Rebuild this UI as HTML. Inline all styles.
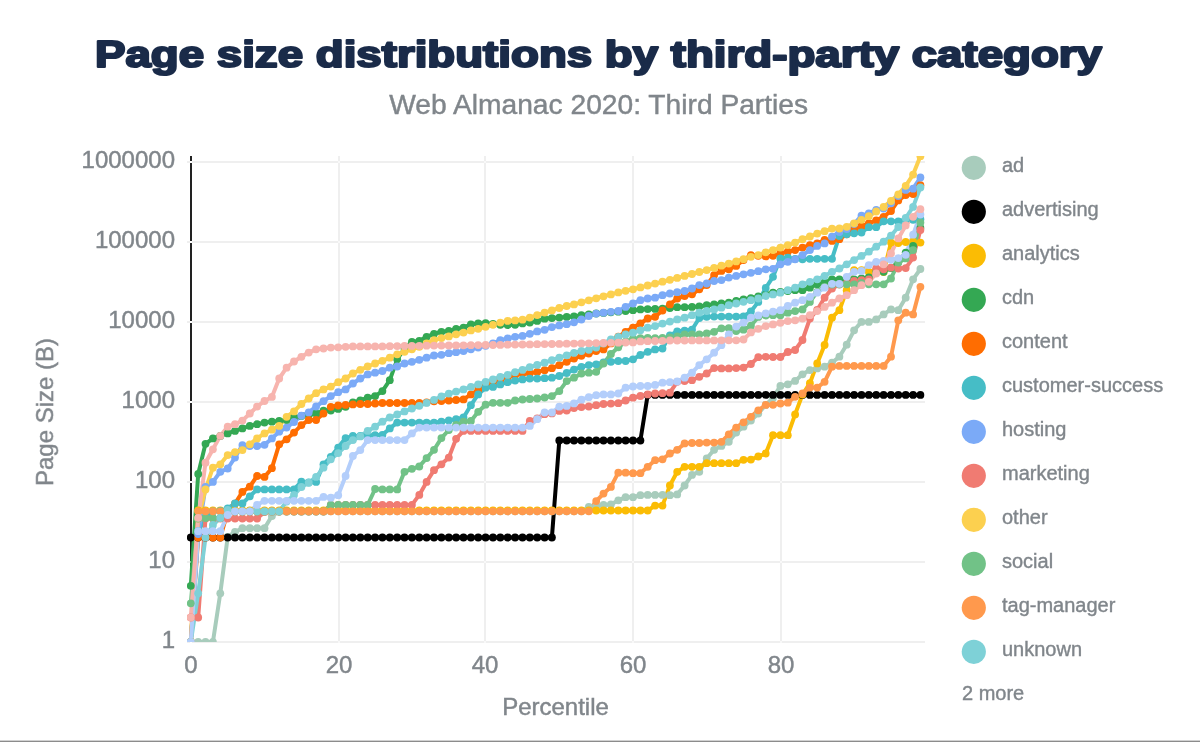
<!DOCTYPE html>
<html><head><meta charset="utf-8"><title>Page size distributions by third-party category</title>
<style>html,body{margin:0;padding:0;background:#fff;}body{width:1200px;height:742px;overflow:hidden;font-family:"Liberation Sans",sans-serif;}svg{display:block;} text{will-change:transform;}</style></head>
<body>
<svg width="1200" height="742" viewBox="0 0 1200 742">
<defs><clipPath id="c"><rect x="187" y="156" width="738" height="486"/></clipPath></defs>
<rect width="1200" height="742" fill="#ffffff"/>
<text x="598.5" y="67" text-anchor="middle" font-family="Liberation Sans, sans-serif" font-weight="bold" font-size="37.5" fill="#1a2b49" stroke="#1a2b49" stroke-width="2.2" stroke-linejoin="round" textLength="1007" lengthAdjust="spacingAndGlyphs">Page size distributions by third-party category</text>
<text x="598.7" y="113.7" text-anchor="middle" font-family="Liberation Sans, sans-serif" font-size="28.2" fill="#80868b" stroke="#80868b" stroke-width="0.45">Web Almanac 2020: Third Parties</text>
<rect x="190" y="156" width="2" height="486" fill="#222222"/>
<rect x="338" y="156" width="2" height="487" fill="#efefef"/>
<rect x="484" y="156" width="2" height="487" fill="#efefef"/>
<rect x="632" y="156" width="2" height="487" fill="#efefef"/>
<rect x="780" y="156" width="2" height="487" fill="#efefef"/>
<rect x="187" y="161" width="738" height="2" fill="#efefef"/>
<rect x="190" y="161" width="2" height="2" fill="#ffffff"/>
<rect x="338" y="161" width="2" height="2" fill="#f8f8f8"/>
<rect x="484" y="161" width="2" height="2" fill="#f8f8f8"/>
<rect x="632" y="161" width="2" height="2" fill="#f8f8f8"/>
<rect x="780" y="161" width="2" height="2" fill="#f8f8f8"/>
<rect x="187" y="241" width="738" height="2" fill="#efefef"/>
<rect x="190" y="241" width="2" height="2" fill="#ffffff"/>
<rect x="338" y="241" width="2" height="2" fill="#f8f8f8"/>
<rect x="484" y="241" width="2" height="2" fill="#f8f8f8"/>
<rect x="632" y="241" width="2" height="2" fill="#f8f8f8"/>
<rect x="780" y="241" width="2" height="2" fill="#f8f8f8"/>
<rect x="187" y="321" width="738" height="2" fill="#efefef"/>
<rect x="190" y="321" width="2" height="2" fill="#ffffff"/>
<rect x="338" y="321" width="2" height="2" fill="#f8f8f8"/>
<rect x="484" y="321" width="2" height="2" fill="#f8f8f8"/>
<rect x="632" y="321" width="2" height="2" fill="#f8f8f8"/>
<rect x="780" y="321" width="2" height="2" fill="#f8f8f8"/>
<rect x="187" y="401" width="738" height="2" fill="#efefef"/>
<rect x="190" y="401" width="2" height="2" fill="#ffffff"/>
<rect x="338" y="401" width="2" height="2" fill="#f8f8f8"/>
<rect x="484" y="401" width="2" height="2" fill="#f8f8f8"/>
<rect x="632" y="401" width="2" height="2" fill="#f8f8f8"/>
<rect x="780" y="401" width="2" height="2" fill="#f8f8f8"/>
<rect x="187" y="481" width="738" height="2" fill="#efefef"/>
<rect x="190" y="481" width="2" height="2" fill="#ffffff"/>
<rect x="338" y="481" width="2" height="2" fill="#f8f8f8"/>
<rect x="484" y="481" width="2" height="2" fill="#f8f8f8"/>
<rect x="632" y="481" width="2" height="2" fill="#f8f8f8"/>
<rect x="780" y="481" width="2" height="2" fill="#f8f8f8"/>
<rect x="187" y="561" width="738" height="2" fill="#efefef"/>
<rect x="190" y="561" width="2" height="2" fill="#ffffff"/>
<rect x="338" y="561" width="2" height="2" fill="#f8f8f8"/>
<rect x="484" y="561" width="2" height="2" fill="#f8f8f8"/>
<rect x="632" y="561" width="2" height="2" fill="#f8f8f8"/>
<rect x="780" y="561" width="2" height="2" fill="#f8f8f8"/>
<rect x="187" y="641" width="738" height="2" fill="#efefef"/>
<rect x="190" y="641" width="2" height="2" fill="#ffffff"/>
<rect x="338" y="641" width="2" height="2" fill="#f8f8f8"/>
<rect x="484" y="641" width="2" height="2" fill="#f8f8f8"/>
<rect x="632" y="641" width="2" height="2" fill="#f8f8f8"/>
<rect x="780" y="641" width="2" height="2" fill="#f8f8f8"/>
<text x="175" y="168.2" text-anchor="end" font-family="Liberation Sans, sans-serif" font-size="24" fill="#80868b" stroke="#80868b" stroke-width="0.45">1000000</text>
<text x="175" y="248.2" text-anchor="end" font-family="Liberation Sans, sans-serif" font-size="24" fill="#80868b" stroke="#80868b" stroke-width="0.45">100000</text>
<text x="175" y="328.2" text-anchor="end" font-family="Liberation Sans, sans-serif" font-size="24" fill="#80868b" stroke="#80868b" stroke-width="0.45">10000</text>
<text x="175" y="408.2" text-anchor="end" font-family="Liberation Sans, sans-serif" font-size="24" fill="#80868b" stroke="#80868b" stroke-width="0.45">1000</text>
<text x="175" y="488.2" text-anchor="end" font-family="Liberation Sans, sans-serif" font-size="24" fill="#80868b" stroke="#80868b" stroke-width="0.45">100</text>
<text x="175" y="568.2" text-anchor="end" font-family="Liberation Sans, sans-serif" font-size="24" fill="#80868b" stroke="#80868b" stroke-width="0.45">10</text>
<text x="175" y="648.2" text-anchor="end" font-family="Liberation Sans, sans-serif" font-size="24" fill="#80868b" stroke="#80868b" stroke-width="0.45">1</text>
<text x="191" y="673" text-anchor="middle" font-family="Liberation Sans, sans-serif" font-size="24" fill="#80868b" stroke="#80868b" stroke-width="0.45">0</text>
<text x="339" y="673" text-anchor="middle" font-family="Liberation Sans, sans-serif" font-size="24" fill="#80868b" stroke="#80868b" stroke-width="0.45">20</text>
<text x="485" y="673" text-anchor="middle" font-family="Liberation Sans, sans-serif" font-size="24" fill="#80868b" stroke="#80868b" stroke-width="0.45">40</text>
<text x="633" y="673" text-anchor="middle" font-family="Liberation Sans, sans-serif" font-size="24" fill="#80868b" stroke="#80868b" stroke-width="0.45">60</text>
<text x="781" y="673" text-anchor="middle" font-family="Liberation Sans, sans-serif" font-size="24" fill="#80868b" stroke="#80868b" stroke-width="0.45">80</text>
<text x="555.5" y="715" text-anchor="middle" font-family="Liberation Sans, sans-serif" font-size="24" fill="#80868b" stroke="#80868b" stroke-width="0.45">Percentile</text>
<text transform="translate(53.1,412) rotate(-90)" text-anchor="middle" font-family="Liberation Sans, sans-serif" font-size="24" fill="#80868b" stroke="#80868b" stroke-width="0.45">Page Size (B)</text>
<g clip-path="url(#c)">
<path d="M190.8,642.0 L198.2,642.0 L205.5,642.0 L212.9,642.0 L220.3,593.3 L227.7,537.0 L235.0,532.0 L242.4,528.2 L249.8,528.2 L257.1,528.2 L264.5,528.2 L271.9,516.0 L279.2,511.5 L286.6,511.3 L294.0,511.3 L301.4,511.3 L308.7,511.3 L316.1,511.3 L323.5,511.3 L330.8,511.3 L338.2,511.3 L345.6,511.3 L352.9,511.3 L360.3,511.3 L367.7,511.3 L375.1,511.3 L382.4,511.3 L389.8,511.3 L397.2,511.3 L404.5,511.3 L411.9,511.3 L419.3,511.3 L426.6,511.3 L434.0,511.3 L441.4,511.3 L448.8,511.3 L456.1,511.3 L463.5,511.3 L470.9,511.3 L478.2,511.3 L485.6,511.3 L493.0,511.3 L500.3,511.3 L507.7,511.3 L515.1,511.3 L522.5,511.3 L529.8,511.3 L537.2,511.3 L544.6,511.3 L551.9,511.3 L559.3,511.3 L566.7,511.3 L574.0,511.3 L581.4,511.3 L588.8,507.0 L596.2,506.0 L603.5,504.9 L610.9,504.5 L618.3,500.3 L625.6,497.2 L633.0,497.2 L640.4,495.2 L647.7,494.9 L655.1,494.9 L662.5,494.9 L669.9,495.2 L677.2,494.4 L684.6,485.5 L692.0,474.9 L699.3,471.8 L706.7,458.5 L714.1,449.8 L721.4,445.9 L728.8,441.8 L736.2,432.6 L743.5,426.7 L750.9,420.5 L758.3,413.5 L765.7,405.0 L773.0,398.0 L780.4,385.9 L787.8,384.3 L795.1,380.9 L802.5,374.3 L809.9,370.1 L817.2,368.4 L824.6,366.7 L832.0,362.6 L839.4,356.7 L846.7,344.7 L854.1,330.3 L861.5,321.9 L868.8,321.9 L876.2,319.4 L883.6,314.4 L891.0,309.4 L898.3,310.2 L905.7,297.7 L913.1,279.3 L920.4,269.0" fill="none" stroke="#a8ccbc" stroke-width="4" stroke-linejoin="round" stroke-linecap="round"/>
<path d="M190.8,537.5 L198.2,537.5 L205.5,537.5 L212.9,537.5 L220.3,537.5 L227.7,537.5 L235.0,537.5 L242.4,537.5 L249.8,537.5 L257.1,537.5 L264.5,537.5 L271.9,537.5 L279.2,537.5 L286.6,537.5 L294.0,537.5 L301.4,537.5 L308.7,537.5 L316.1,537.5 L323.5,537.5 L330.8,537.5 L338.2,537.5 L345.6,537.5 L352.9,537.5 L360.3,537.5 L367.7,537.5 L375.1,537.5 L382.4,537.5 L389.8,537.5 L397.2,537.5 L404.5,537.5 L411.9,537.5 L419.3,537.5 L426.6,537.5 L434.0,537.5 L441.4,537.5 L448.8,537.5 L456.1,537.5 L463.5,537.5 L470.9,537.5 L478.2,537.5 L485.6,537.5 L493.0,537.5 L500.3,537.5 L507.7,537.5 L515.1,537.5 L522.5,537.5 L529.8,537.5 L537.2,537.5 L544.6,537.5 L551.9,537.5 L559.3,440.5 L566.7,440.5 L574.0,440.5 L581.4,440.5 L588.8,440.5 L596.2,440.5 L603.5,440.5 L610.9,440.5 L618.3,440.5 L625.6,440.5 L633.0,440.5 L640.4,440.5 L647.7,394.9 L655.1,394.9 L662.5,394.9 L669.9,394.9 L677.2,394.9 L684.6,394.9 L692.0,394.9 L699.3,394.9 L706.7,394.9 L714.1,394.9 L721.4,394.9 L728.8,394.9 L736.2,394.9 L743.5,394.9 L750.9,394.9 L758.3,394.9 L765.7,394.9 L773.0,394.9 L780.4,394.9 L787.8,394.9 L795.1,394.9 L802.5,394.9 L809.9,394.9 L817.2,394.9 L824.6,394.9 L832.0,394.9 L839.4,394.9 L846.7,394.9 L854.1,394.9 L861.5,394.9 L868.8,394.9 L876.2,394.9 L883.6,394.9 L891.0,394.9 L898.3,394.9 L905.7,394.9 L913.1,394.9 L920.4,394.9" fill="none" stroke="#000000" stroke-width="4" stroke-linejoin="round" stroke-linecap="round"/>
<path d="M190.8,642.0 L198.2,510.5 L205.5,510.5 L212.9,510.5 L220.3,510.5 L227.7,510.5 L235.0,510.5 L242.4,510.5 L249.8,510.5 L257.1,510.5 L264.5,510.5 L271.9,510.5 L279.2,510.5 L286.6,510.5 L294.0,510.5 L301.4,510.5 L308.7,510.5 L316.1,510.5 L323.5,510.5 L330.8,510.5 L338.2,510.5 L345.6,510.5 L352.9,510.5 L360.3,510.5 L367.7,510.5 L375.1,510.5 L382.4,510.5 L389.8,510.5 L397.2,510.5 L404.5,510.5 L411.9,510.5 L419.3,510.5 L426.6,510.5 L434.0,510.5 L441.4,510.5 L448.8,510.5 L456.1,510.5 L463.5,510.5 L470.9,510.5 L478.2,510.5 L485.6,510.5 L493.0,510.5 L500.3,510.5 L507.7,510.5 L515.1,510.5 L522.5,510.5 L529.8,510.5 L537.2,510.5 L544.6,510.5 L551.9,510.5 L559.3,510.5 L566.7,510.5 L574.0,510.5 L581.4,510.5 L588.8,510.5 L596.2,510.5 L603.5,510.5 L610.9,510.5 L618.3,510.5 L625.6,510.5 L633.0,510.5 L640.4,510.5 L647.7,510.5 L655.1,505.6 L662.5,505.6 L669.9,485.5 L677.2,471.8 L684.6,466.8 L692.0,466.8 L699.3,466.8 L706.7,463.2 L714.1,463.2 L721.4,463.2 L728.8,463.2 L736.2,463.2 L743.5,459.8 L750.9,459.6 L758.3,456.5 L765.7,453.5 L773.0,435.2 L780.4,435.2 L787.8,435.2 L795.1,414.4 L802.5,394.5 L809.9,383.2 L817.2,363.4 L824.6,345.0 L832.0,317.7 L839.4,310.2 L846.7,290.2 L854.1,270.1 L861.5,270.1 L868.8,271.8 L876.2,270.0 L883.6,272.0 L891.0,242.6 L898.3,243.0 L905.7,242.0 L913.1,241.7 L920.4,242.6" fill="none" stroke="#fbbc04" stroke-width="4" stroke-linejoin="round" stroke-linecap="round"/>
<path d="M190.8,585.8 L198.2,473.9 L205.5,443.8 L212.9,438.4 L220.3,435.9 L227.7,433.4 L235.0,430.9 L242.4,428.4 L249.8,425.9 L257.1,424.2 L264.5,422.6 L271.9,421.7 L279.2,420.9 L286.6,420.0 L294.0,417.5 L301.4,415.9 L308.7,415.0 L316.1,413.5 L323.5,410.6 L330.8,410.6 L338.2,408.9 L345.6,406.8 L352.9,402.5 L360.3,400.3 L367.7,397.7 L375.1,396.1 L382.4,391.1 L389.8,380.2 L397.2,359.3 L404.5,348.5 L411.9,341.8 L419.3,341.0 L426.6,336.8 L434.0,333.8 L441.4,331.8 L448.8,330.9 L456.1,328.8 L463.5,327.6 L470.9,324.3 L478.2,323.4 L485.6,323.1 L493.0,324.0 L500.3,324.8 L507.7,325.1 L515.1,324.8 L522.5,323.4 L529.8,322.6 L537.2,320.9 L544.6,318.7 L551.9,318.1 L559.3,317.6 L566.7,317.0 L574.0,316.4 L581.4,315.2 L588.8,314.3 L596.2,313.5 L603.5,312.9 L610.9,312.3 L618.3,311.7 L625.6,311.0 L633.0,310.2 L640.4,309.4 L647.7,309.1 L655.1,308.9 L662.5,308.6 L669.9,308.0 L677.2,307.2 L684.6,307.2 L692.0,306.9 L699.3,306.5 L706.7,305.2 L714.1,304.4 L721.4,303.5 L728.8,302.7 L736.2,301.0 L743.5,299.3 L750.9,298.2 L758.3,296.5 L765.7,294.5 L773.0,292.7 L780.4,292.0 L787.8,291.0 L795.1,290.2 L802.5,290.2 L809.9,287.7 L817.2,284.3 L824.6,282.5 L832.0,279.3 L839.4,279.3 L846.7,280.0 L854.1,279.3 L861.5,278.5 L868.8,277.5 L876.2,272.0 L883.6,271.8 L891.0,268.0 L898.3,262.0 L905.7,252.6 L913.1,245.9 L920.4,228.0" fill="none" stroke="#34a853" stroke-width="4" stroke-linejoin="round" stroke-linecap="round"/>
<path d="M190.8,642.0 L198.2,537.5 L205.5,537.5 L212.9,537.5 L220.3,537.5 L227.7,512.0 L235.0,503.6 L242.4,491.9 L249.8,486.7 L257.1,476.0 L264.5,476.9 L271.9,468.2 L279.2,444.3 L286.6,439.3 L294.0,432.6 L301.4,425.1 L308.7,420.0 L316.1,420.0 L323.5,413.5 L330.8,406.8 L338.2,405.5 L345.6,404.9 L352.9,404.4 L360.3,404.0 L367.7,404.0 L375.1,403.5 L382.4,403.0 L389.8,403.0 L397.2,403.0 L404.5,403.0 L411.9,403.0 L419.3,403.0 L426.6,402.3 L434.0,401.3 L441.4,401.0 L448.8,400.5 L456.1,400.0 L463.5,399.4 L470.9,394.4 L478.2,389.9 L485.6,386.1 L493.0,382.7 L500.3,379.4 L507.7,377.3 L515.1,375.2 L522.5,373.5 L529.8,373.2 L537.2,371.9 L544.6,370.2 L551.9,368.2 L559.3,365.2 L566.7,361.8 L574.0,358.5 L581.4,355.8 L588.8,353.5 L596.2,351.0 L603.5,349.4 L610.9,343.4 L618.3,336.7 L625.6,331.8 L633.0,327.6 L640.4,323.5 L647.7,318.5 L655.1,316.8 L662.5,310.5 L669.9,304.4 L677.2,298.5 L684.6,296.0 L692.0,294.3 L699.3,289.3 L706.7,285.1 L714.1,275.1 L721.4,270.9 L728.8,269.3 L736.2,265.9 L743.5,260.0 L750.9,255.1 L758.3,255.8 L765.7,256.4 L773.0,255.8 L780.4,253.4 L787.8,251.7 L795.1,250.1 L802.5,247.6 L809.9,245.1 L817.2,243.4 L824.6,240.0 L832.0,240.9 L839.4,239.2 L846.7,234.3 L854.1,229.7 L861.5,226.2 L868.8,223.3 L876.2,220.3 L883.6,216.8 L891.0,211.0 L898.3,200.4 L905.7,195.1 L913.1,194.0 L920.4,185.2" fill="none" stroke="#ff6d01" stroke-width="4" stroke-linejoin="round" stroke-linecap="round"/>
<path d="M190.8,642.0 L198.2,531.2 L205.5,518.0 L212.9,511.5 L220.3,511.0 L227.7,508.5 L235.0,503.5 L242.4,503.5 L249.8,496.3 L257.1,489.4 L264.5,489.4 L271.9,489.4 L279.2,489.4 L286.6,489.4 L294.0,489.4 L301.4,481.7 L308.7,482.5 L316.1,481.9 L323.5,464.3 L330.8,456.8 L338.2,447.6 L345.6,438.1 L352.9,435.9 L360.3,435.9 L367.7,435.4 L375.1,435.1 L382.4,434.8 L389.8,428.4 L397.2,422.6 L404.5,422.6 L411.9,422.6 L419.3,422.6 L426.6,422.6 L434.0,422.6 L441.4,421.7 L448.8,420.4 L456.1,419.2 L463.5,417.5 L470.9,405.2 L478.2,394.4 L485.6,387.7 L493.0,386.9 L500.3,384.4 L507.7,382.2 L515.1,380.6 L522.5,379.4 L529.8,378.6 L537.2,378.6 L544.6,378.2 L551.9,377.7 L559.3,376.0 L566.7,373.0 L574.0,369.6 L581.4,366.8 L588.8,365.1 L596.2,364.3 L603.5,362.5 L610.9,361.8 L618.3,361.0 L625.6,361.0 L633.0,359.3 L640.4,355.0 L647.7,351.8 L655.1,349.4 L662.5,348.5 L669.9,335.3 L677.2,331.4 L684.6,330.6 L692.0,329.7 L699.3,318.0 L706.7,316.8 L714.1,316.6 L721.4,316.6 L728.8,316.6 L736.2,316.6 L743.5,316.5 L750.9,311.5 L758.3,301.9 L765.7,288.0 L773.0,276.8 L780.4,258.4 L787.8,257.6 L795.1,259.0 L802.5,259.3 L809.9,258.8 L817.2,258.8 L824.6,258.8 L832.0,258.8 L839.4,236.0 L846.7,234.3 L854.1,233.3 L861.5,232.5 L868.8,227.2 L876.2,227.2 L883.6,221.3 L891.0,221.3 L898.3,221.3 L905.7,219.5 L913.1,219.8 L920.4,219.2" fill="none" stroke="#46bdc6" stroke-width="4" stroke-linejoin="round" stroke-linecap="round"/>
<path d="M190.8,642.0 L198.2,534.0 L205.5,486.9 L212.9,481.9 L220.3,471.8 L227.7,468.5 L235.0,457.6 L242.4,445.1 L249.8,446.0 L257.1,446.0 L264.5,444.8 L271.9,438.4 L279.2,431.7 L286.6,427.6 L294.0,422.0 L301.4,415.6 L308.7,412.4 L316.1,406.5 L323.5,401.2 L330.8,396.1 L338.2,392.2 L345.6,389.4 L352.9,383.5 L360.3,378.5 L367.7,374.4 L375.1,372.7 L382.4,371.0 L389.8,367.7 L397.2,366.5 L404.5,363.5 L411.9,361.8 L419.3,359.8 L426.6,357.7 L434.0,355.5 L441.4,354.8 L448.8,353.2 L456.1,352.2 L463.5,351.0 L470.9,349.3 L478.2,347.6 L485.6,345.8 L493.0,343.5 L500.3,340.1 L507.7,338.5 L515.1,336.8 L522.5,335.9 L529.8,333.8 L537.2,331.4 L544.6,329.8 L551.9,327.1 L559.3,325.4 L566.7,324.2 L574.0,322.3 L581.4,319.5 L588.8,316.0 L596.2,313.6 L603.5,312.7 L610.9,311.8 L618.3,311.0 L625.6,306.9 L633.0,303.5 L640.4,300.2 L647.7,298.5 L655.1,297.7 L662.5,295.2 L669.9,293.5 L677.2,292.2 L684.6,291.0 L692.0,288.5 L699.3,285.1 L706.7,283.5 L714.1,281.0 L721.4,280.1 L728.8,277.6 L736.2,275.9 L743.5,274.3 L750.9,272.8 L758.3,271.2 L765.7,269.3 L773.0,268.8 L780.4,264.3 L787.8,261.8 L795.1,259.3 L802.5,255.1 L809.9,250.1 L817.2,245.9 L824.6,243.4 L832.0,236.7 L839.4,232.0 L846.7,229.0 L854.1,224.0 L861.5,215.7 L868.8,213.3 L876.2,209.8 L883.6,208.6 L891.0,203.3 L898.3,196.0 L905.7,189.9 L913.1,188.7 L920.4,177.5" fill="none" stroke="#7baaf7" stroke-width="4" stroke-linejoin="round" stroke-linecap="round"/>
<path d="M190.8,617.5 L198.2,617.5 L205.5,518.5 L212.9,518.5 L220.3,518.5 L227.7,518.5 L235.0,518.5 L242.4,518.5 L249.8,518.5 L257.1,518.5 L264.5,512.0 L271.9,511.5 L279.2,511.5 L286.6,511.5 L294.0,511.5 L301.4,511.5 L308.7,511.5 L316.1,511.5 L323.5,511.5 L330.8,504.9 L338.2,504.9 L345.6,504.9 L352.9,504.9 L360.3,504.9 L367.7,504.9 L375.1,504.9 L382.4,504.9 L389.8,504.9 L397.2,504.9 L404.5,504.9 L411.9,504.9 L419.3,494.9 L426.6,481.9 L434.0,470.2 L441.4,464.3 L448.8,457.6 L456.1,438.8 L463.5,430.9 L470.9,430.9 L478.2,430.9 L485.6,430.9 L493.0,430.9 L500.3,430.9 L507.7,430.9 L515.1,430.9 L522.5,430.9 L529.8,420.9 L537.2,418.5 L544.6,414.2 L551.9,413.4 L559.3,410.9 L566.7,410.5 L574.0,408.0 L581.4,407.0 L588.8,406.5 L596.2,405.2 L603.5,404.0 L610.9,403.6 L618.3,403.2 L625.6,400.5 L633.0,397.7 L640.4,396.0 L647.7,394.4 L655.1,393.5 L662.5,393.2 L669.9,392.7 L677.2,381.8 L684.6,381.0 L692.0,380.2 L699.3,376.8 L706.7,373.5 L714.1,368.1 L721.4,368.4 L728.8,368.4 L736.2,368.1 L743.5,367.6 L750.9,364.0 L758.3,357.2 L765.7,356.8 L773.0,357.0 L780.4,357.0 L787.8,352.0 L795.1,350.0 L802.5,340.0 L809.9,318.6 L817.2,310.0 L824.6,297.7 L832.0,288.5 L839.4,284.5 L846.7,283.5 L854.1,281.0 L861.5,280.2 L868.8,279.3 L876.2,268.5 L883.6,269.3 L891.0,267.6 L898.3,268.5 L905.7,268.1 L913.1,257.6 L920.4,230.0" fill="none" stroke="#f07b72" stroke-width="4" stroke-linejoin="round" stroke-linecap="round"/>
<path d="M190.8,642.0 L198.2,518.5 L205.5,489.4 L212.9,467.7 L220.3,464.3 L227.7,455.1 L235.0,452.1 L242.4,450.1 L249.8,444.3 L257.1,438.4 L264.5,433.4 L271.9,429.7 L279.2,425.9 L286.6,416.8 L294.0,411.4 L301.4,404.0 L308.7,398.5 L316.1,393.2 L323.5,389.4 L330.8,386.6 L338.2,382.2 L345.6,378.5 L352.9,373.5 L360.3,369.8 L367.7,366.5 L375.1,363.5 L382.4,360.8 L389.8,357.7 L397.2,354.3 L404.5,351.8 L411.9,349.3 L419.3,346.8 L426.6,343.5 L434.0,340.1 L441.4,338.1 L448.8,336.4 L456.1,334.3 L463.5,332.6 L470.9,330.4 L478.2,328.8 L485.6,326.8 L493.0,324.8 L500.3,322.6 L507.7,320.9 L515.1,320.4 L522.5,319.7 L529.8,317.6 L537.2,315.1 L544.6,312.6 L551.9,310.4 L559.3,308.0 L566.7,306.0 L574.0,304.4 L581.4,302.3 L588.8,300.3 L596.2,298.3 L603.5,296.3 L610.9,294.4 L618.3,292.4 L625.6,290.8 L633.0,289.3 L640.4,287.4 L647.7,285.5 L655.1,283.6 L662.5,281.7 L669.9,279.8 L677.2,277.9 L684.6,275.9 L692.0,274.0 L699.3,272.0 L706.7,270.1 L714.1,267.9 L721.4,265.7 L728.8,263.6 L736.2,261.4 L743.5,259.2 L750.9,256.8 L758.3,255.1 L765.7,252.3 L773.0,250.1 L780.4,247.6 L787.8,245.1 L795.1,242.6 L802.5,239.2 L809.9,236.5 L817.2,233.6 L824.6,231.2 L832.0,228.6 L839.4,228.5 L846.7,226.8 L854.1,223.3 L861.5,219.8 L868.8,216.2 L876.2,211.5 L883.6,206.9 L891.0,201.0 L898.3,194.5 L905.7,185.8 L913.1,174.6 L920.4,156.2" fill="none" stroke="#fcd04f" stroke-width="4" stroke-linejoin="round" stroke-linecap="round"/>
<path d="M190.8,603.3 L198.2,518.5 L205.5,518.0 L212.9,518.0 L220.3,518.0 L227.7,511.5 L235.0,511.5 L242.4,511.5 L249.8,511.5 L257.1,511.5 L264.5,511.5 L271.9,511.5 L279.2,511.5 L286.6,511.5 L294.0,511.5 L301.4,511.5 L308.7,511.5 L316.1,511.5 L323.5,511.5 L330.8,504.9 L338.2,504.9 L345.6,504.9 L352.9,504.9 L360.3,504.9 L367.7,504.9 L375.1,489.0 L382.4,489.4 L389.8,489.4 L397.2,489.4 L404.5,471.8 L411.9,468.8 L419.3,466.5 L426.6,458.1 L434.0,449.8 L441.4,438.1 L448.8,430.0 L456.1,425.0 L463.5,421.7 L470.9,420.9 L478.2,411.8 L485.6,404.7 L493.0,402.8 L500.3,402.8 L507.7,402.8 L515.1,400.5 L522.5,399.5 L529.8,399.0 L537.2,398.5 L544.6,397.5 L551.9,396.1 L559.3,391.1 L566.7,381.1 L574.0,377.7 L581.4,373.5 L588.8,372.7 L596.2,371.8 L603.5,363.5 L610.9,354.0 L618.3,347.3 L625.6,341.7 L633.0,338.7 L640.4,338.2 L647.7,337.9 L655.1,338.2 L662.5,338.0 L669.9,337.5 L677.2,336.5 L684.6,334.3 L692.0,334.5 L699.3,334.3 L706.7,333.5 L714.1,331.8 L721.4,328.3 L728.8,328.1 L736.2,331.0 L743.5,329.7 L750.9,325.7 L758.3,316.9 L765.7,315.5 L773.0,315.2 L780.4,315.2 L787.8,312.7 L795.1,311.1 L802.5,309.4 L809.9,301.9 L817.2,291.8 L824.6,287.0 L832.0,284.5 L839.4,284.3 L846.7,284.3 L854.1,284.3 L861.5,283.0 L868.8,284.3 L876.2,284.3 L883.6,284.3 L891.0,278.5 L898.3,262.6 L905.7,258.4 L913.1,250.1 L920.4,222.6" fill="none" stroke="#71c287" stroke-width="4" stroke-linejoin="round" stroke-linecap="round"/>
<path d="M190.8,642.0 L198.2,511.3 L205.5,511.3 L212.9,511.3 L220.3,511.3 L227.7,511.3 L235.0,511.3 L242.4,511.3 L249.8,511.3 L257.1,511.3 L264.5,511.3 L271.9,511.3 L279.2,511.3 L286.6,511.3 L294.0,511.3 L301.4,511.3 L308.7,511.3 L316.1,511.3 L323.5,511.3 L330.8,511.3 L338.2,511.3 L345.6,511.3 L352.9,511.3 L360.3,511.3 L367.7,511.3 L375.1,511.3 L382.4,511.3 L389.8,511.3 L397.2,511.3 L404.5,511.3 L411.9,511.3 L419.3,511.3 L426.6,511.3 L434.0,511.3 L441.4,511.3 L448.8,511.3 L456.1,511.3 L463.5,511.3 L470.9,511.3 L478.2,511.3 L485.6,511.3 L493.0,511.3 L500.3,511.3 L507.7,511.3 L515.1,511.3 L522.5,511.3 L529.8,511.3 L537.2,511.3 L544.6,511.3 L551.9,511.3 L559.3,511.3 L566.7,511.3 L574.0,511.3 L581.4,511.3 L588.8,511.3 L596.2,501.1 L603.5,493.6 L610.9,486.9 L618.3,472.7 L625.6,472.7 L633.0,473.2 L640.4,473.2 L647.7,466.8 L655.1,460.2 L662.5,459.3 L669.9,453.5 L677.2,449.8 L684.6,443.4 L692.0,443.0 L699.3,443.0 L706.7,442.6 L714.1,442.6 L721.4,441.8 L728.8,434.3 L736.2,427.6 L743.5,422.3 L750.9,416.8 L758.3,410.3 L765.7,404.9 L773.0,404.8 L780.4,403.5 L787.8,402.7 L795.1,396.8 L802.5,393.5 L809.9,387.6 L817.2,387.6 L824.6,381.8 L832.0,366.7 L839.4,365.9 L846.7,365.9 L854.1,365.9 L861.5,365.9 L868.8,365.9 L876.2,365.9 L883.6,365.9 L891.0,356.7 L898.3,320.3 L905.7,312.7 L913.1,314.4 L920.4,286.8" fill="none" stroke="#ff994d" stroke-width="4" stroke-linejoin="round" stroke-linecap="round"/>
<path d="M190.8,642.0 L198.2,593.3 L205.5,537.5 L212.9,525.0 L220.3,518.0 L227.7,509.8 L235.0,511.3 L242.4,511.3 L249.8,511.3 L257.1,511.3 L264.5,511.3 L271.9,511.3 L279.2,511.3 L286.6,501.5 L294.0,495.0 L301.4,487.0 L308.7,482.7 L316.1,476.9 L323.5,467.7 L330.8,459.3 L338.2,453.1 L345.6,446.0 L352.9,440.1 L360.3,436.4 L367.7,430.9 L375.1,426.7 L382.4,421.7 L389.8,417.5 L397.2,414.5 L404.5,411.4 L411.9,408.5 L419.3,405.8 L426.6,402.9 L434.0,399.9 L441.4,396.5 L448.8,393.6 L456.1,391.6 L463.5,389.4 L470.9,386.9 L478.2,384.4 L485.6,381.9 L493.0,379.4 L500.3,376.9 L507.7,374.9 L515.1,372.2 L522.5,369.9 L529.8,367.2 L537.2,364.9 L544.6,362.7 L551.9,360.2 L559.3,357.7 L566.7,355.3 L574.0,352.9 L581.4,351.0 L588.8,349.8 L596.2,347.5 L603.5,343.5 L610.9,339.3 L618.3,336.8 L625.6,334.5 L633.0,332.7 L640.4,330.3 L647.7,327.7 L655.1,326.1 L662.5,323.6 L669.9,321.6 L677.2,319.4 L684.6,317.7 L692.0,315.2 L699.3,312.7 L706.7,311.0 L714.1,309.4 L721.4,307.7 L728.8,305.2 L736.2,303.5 L743.5,301.8 L750.9,300.2 L758.3,298.5 L765.7,296.0 L773.0,294.4 L780.4,292.7 L787.8,290.2 L795.1,287.7 L802.5,284.3 L809.9,281.8 L817.2,279.3 L824.6,276.0 L832.0,271.8 L839.4,268.5 L846.7,264.3 L854.1,260.1 L861.5,255.9 L868.8,251.7 L876.2,246.7 L883.6,241.7 L891.0,235.7 L898.3,227.0 L905.7,218.0 L913.1,206.9 L920.4,187.5" fill="none" stroke="#7ed1d7" stroke-width="4" stroke-linejoin="round" stroke-linecap="round"/>
<path d="M190.8,642.0 L198.2,531.2 L205.5,531.2 L212.9,531.2 L220.3,531.2 L227.7,515.0 L235.0,511.3 L242.4,511.3 L249.8,511.3 L257.1,504.9 L264.5,500.8 L271.9,500.8 L279.2,500.8 L286.6,500.8 L294.0,500.8 L301.4,500.8 L308.7,500.8 L316.1,500.8 L323.5,496.9 L330.8,497.7 L338.2,495.2 L345.6,476.0 L352.9,456.0 L360.3,450.1 L367.7,440.1 L375.1,440.1 L382.4,440.1 L389.8,440.1 L397.2,440.1 L404.5,440.1 L411.9,433.4 L419.3,427.6 L426.6,427.6 L434.0,427.6 L441.4,427.6 L448.8,427.6 L456.1,427.6 L463.5,427.6 L470.9,427.6 L478.2,427.6 L485.6,427.6 L493.0,427.6 L500.3,427.6 L507.7,427.6 L515.1,427.6 L522.5,427.6 L529.8,425.9 L537.2,419.2 L544.6,412.5 L551.9,412.5 L559.3,406.7 L566.7,405.9 L574.0,403.4 L581.4,399.7 L588.8,397.2 L596.2,395.2 L603.5,394.4 L610.9,394.4 L618.3,393.5 L625.6,387.7 L633.0,386.5 L640.4,386.0 L647.7,386.0 L655.1,384.9 L662.5,382.7 L669.9,382.2 L677.2,381.5 L684.6,377.7 L692.0,372.7 L699.3,365.1 L706.7,359.3 L714.1,352.7 L721.4,345.2 L728.8,334.3 L736.2,326.6 L743.5,322.6 L750.9,317.6 L758.3,315.4 L765.7,313.4 L773.0,311.6 L780.4,310.2 L787.8,306.0 L795.1,302.7 L802.5,300.2 L809.9,296.9 L817.2,292.7 L824.6,287.7 L832.0,283.8 L839.4,283.8 L846.7,276.8 L854.1,271.8 L861.5,271.0 L868.8,265.1 L876.2,261.8 L883.6,261.0 L891.0,259.8 L898.3,258.1 L905.7,254.8 L913.1,234.7 L920.4,214.5" fill="none" stroke="#b3cefb" stroke-width="4" stroke-linejoin="round" stroke-linecap="round"/>
<path d="M190.8,617.5 L198.2,517.8 L205.5,462.7 L212.9,449.3 L220.3,435.9 L227.7,426.7 L235.0,424.2 L242.4,420.6 L249.8,413.5 L257.1,406.6 L264.5,401.0 L271.9,396.9 L279.2,378.5 L286.6,367.7 L294.0,361.5 L301.4,356.8 L308.7,352.6 L316.1,349.3 L323.5,348.5 L330.8,347.6 L338.2,347.3 L345.6,346.8 L352.9,346.4 L360.3,346.4 L367.7,346.4 L375.1,346.4 L382.4,346.4 L389.8,346.2 L397.2,346.1 L404.5,346.0 L411.9,345.9 L419.3,345.8 L426.6,345.7 L434.0,345.6 L441.4,345.6 L448.8,345.5 L456.1,345.4 L463.5,345.3 L470.9,345.2 L478.2,345.1 L485.6,345.0 L493.0,345.0 L500.3,344.9 L507.7,344.7 L515.1,344.6 L522.5,344.5 L529.8,344.4 L537.2,344.2 L544.6,344.1 L551.9,344.0 L559.3,343.9 L566.7,343.7 L574.0,343.6 L581.4,343.4 L588.8,343.3 L596.2,343.1 L603.5,343.0 L610.9,342.8 L618.3,342.7 L625.6,342.5 L633.0,342.4 L640.4,341.4 L647.7,341.2 L655.1,341.0 L662.5,340.8 L669.9,340.5 L677.2,340.5 L684.6,340.5 L692.0,340.4 L699.3,340.4 L706.7,340.4 L714.1,340.4 L721.4,340.3 L728.8,340.3 L736.2,340.3 L743.5,339.5 L750.9,332.4 L758.3,328.8 L765.7,326.1 L773.0,324.4 L780.4,322.8 L787.8,321.1 L795.1,320.3 L802.5,318.6 L809.9,315.2 L817.2,311.1 L824.6,306.9 L832.0,302.7 L839.4,298.5 L846.7,295.2 L854.1,290.2 L861.5,285.2 L868.8,281.8 L876.2,273.5 L883.6,264.3 L891.0,253.4 L898.3,238.4 L905.7,225.4 L913.1,216.8 L920.4,209.2" fill="none" stroke="#f7b4ae" stroke-width="4" stroke-linejoin="round" stroke-linecap="round"/>
<g fill="#a8ccbc"><circle cx="190.8" cy="642.0" r="3.9"/><circle cx="198.2" cy="642.0" r="3.9"/><circle cx="205.5" cy="642.0" r="3.9"/><circle cx="212.9" cy="642.0" r="3.9"/><circle cx="220.3" cy="593.3" r="3.9"/><circle cx="227.7" cy="537.0" r="3.9"/><circle cx="235.0" cy="532.0" r="3.9"/><circle cx="242.4" cy="528.2" r="3.9"/><circle cx="249.8" cy="528.2" r="3.9"/><circle cx="257.1" cy="528.2" r="3.9"/><circle cx="264.5" cy="528.2" r="3.9"/><circle cx="271.9" cy="516.0" r="3.9"/><circle cx="279.2" cy="511.5" r="3.9"/><circle cx="286.6" cy="511.3" r="3.9"/><circle cx="294.0" cy="511.3" r="3.9"/><circle cx="301.4" cy="511.3" r="3.9"/><circle cx="308.7" cy="511.3" r="3.9"/><circle cx="316.1" cy="511.3" r="3.9"/><circle cx="323.5" cy="511.3" r="3.9"/><circle cx="330.8" cy="511.3" r="3.9"/><circle cx="338.2" cy="511.3" r="3.9"/><circle cx="345.6" cy="511.3" r="3.9"/><circle cx="352.9" cy="511.3" r="3.9"/><circle cx="360.3" cy="511.3" r="3.9"/><circle cx="367.7" cy="511.3" r="3.9"/><circle cx="375.1" cy="511.3" r="3.9"/><circle cx="382.4" cy="511.3" r="3.9"/><circle cx="389.8" cy="511.3" r="3.9"/><circle cx="397.2" cy="511.3" r="3.9"/><circle cx="404.5" cy="511.3" r="3.9"/><circle cx="411.9" cy="511.3" r="3.9"/><circle cx="419.3" cy="511.3" r="3.9"/><circle cx="426.6" cy="511.3" r="3.9"/><circle cx="434.0" cy="511.3" r="3.9"/><circle cx="441.4" cy="511.3" r="3.9"/><circle cx="448.8" cy="511.3" r="3.9"/><circle cx="456.1" cy="511.3" r="3.9"/><circle cx="463.5" cy="511.3" r="3.9"/><circle cx="470.9" cy="511.3" r="3.9"/><circle cx="478.2" cy="511.3" r="3.9"/><circle cx="485.6" cy="511.3" r="3.9"/><circle cx="493.0" cy="511.3" r="3.9"/><circle cx="500.3" cy="511.3" r="3.9"/><circle cx="507.7" cy="511.3" r="3.9"/><circle cx="515.1" cy="511.3" r="3.9"/><circle cx="522.5" cy="511.3" r="3.9"/><circle cx="529.8" cy="511.3" r="3.9"/><circle cx="537.2" cy="511.3" r="3.9"/><circle cx="544.6" cy="511.3" r="3.9"/><circle cx="551.9" cy="511.3" r="3.9"/><circle cx="559.3" cy="511.3" r="3.9"/><circle cx="566.7" cy="511.3" r="3.9"/><circle cx="574.0" cy="511.3" r="3.9"/><circle cx="581.4" cy="511.3" r="3.9"/><circle cx="588.8" cy="507.0" r="3.9"/><circle cx="596.2" cy="506.0" r="3.9"/><circle cx="603.5" cy="504.9" r="3.9"/><circle cx="610.9" cy="504.5" r="3.9"/><circle cx="618.3" cy="500.3" r="3.9"/><circle cx="625.6" cy="497.2" r="3.9"/><circle cx="633.0" cy="497.2" r="3.9"/><circle cx="640.4" cy="495.2" r="3.9"/><circle cx="647.7" cy="494.9" r="3.9"/><circle cx="655.1" cy="494.9" r="3.9"/><circle cx="662.5" cy="494.9" r="3.9"/><circle cx="669.9" cy="495.2" r="3.9"/><circle cx="677.2" cy="494.4" r="3.9"/><circle cx="684.6" cy="485.5" r="3.9"/><circle cx="692.0" cy="474.9" r="3.9"/><circle cx="699.3" cy="471.8" r="3.9"/><circle cx="706.7" cy="458.5" r="3.9"/><circle cx="714.1" cy="449.8" r="3.9"/><circle cx="721.4" cy="445.9" r="3.9"/><circle cx="728.8" cy="441.8" r="3.9"/><circle cx="736.2" cy="432.6" r="3.9"/><circle cx="743.5" cy="426.7" r="3.9"/><circle cx="750.9" cy="420.5" r="3.9"/><circle cx="758.3" cy="413.5" r="3.9"/><circle cx="765.7" cy="405.0" r="3.9"/><circle cx="773.0" cy="398.0" r="3.9"/><circle cx="780.4" cy="385.9" r="3.9"/><circle cx="787.8" cy="384.3" r="3.9"/><circle cx="795.1" cy="380.9" r="3.9"/><circle cx="802.5" cy="374.3" r="3.9"/><circle cx="809.9" cy="370.1" r="3.9"/><circle cx="817.2" cy="368.4" r="3.9"/><circle cx="824.6" cy="366.7" r="3.9"/><circle cx="832.0" cy="362.6" r="3.9"/><circle cx="839.4" cy="356.7" r="3.9"/><circle cx="846.7" cy="344.7" r="3.9"/><circle cx="854.1" cy="330.3" r="3.9"/><circle cx="861.5" cy="321.9" r="3.9"/><circle cx="868.8" cy="321.9" r="3.9"/><circle cx="876.2" cy="319.4" r="3.9"/><circle cx="883.6" cy="314.4" r="3.9"/><circle cx="891.0" cy="309.4" r="3.9"/><circle cx="898.3" cy="310.2" r="3.9"/><circle cx="905.7" cy="297.7" r="3.9"/><circle cx="913.1" cy="279.3" r="3.9"/><circle cx="920.4" cy="269.0" r="3.9"/></g>
<g fill="#000000"><circle cx="190.8" cy="537.5" r="3.9"/><circle cx="198.2" cy="537.5" r="3.9"/><circle cx="205.5" cy="537.5" r="3.9"/><circle cx="212.9" cy="537.5" r="3.9"/><circle cx="220.3" cy="537.5" r="3.9"/><circle cx="227.7" cy="537.5" r="3.9"/><circle cx="235.0" cy="537.5" r="3.9"/><circle cx="242.4" cy="537.5" r="3.9"/><circle cx="249.8" cy="537.5" r="3.9"/><circle cx="257.1" cy="537.5" r="3.9"/><circle cx="264.5" cy="537.5" r="3.9"/><circle cx="271.9" cy="537.5" r="3.9"/><circle cx="279.2" cy="537.5" r="3.9"/><circle cx="286.6" cy="537.5" r="3.9"/><circle cx="294.0" cy="537.5" r="3.9"/><circle cx="301.4" cy="537.5" r="3.9"/><circle cx="308.7" cy="537.5" r="3.9"/><circle cx="316.1" cy="537.5" r="3.9"/><circle cx="323.5" cy="537.5" r="3.9"/><circle cx="330.8" cy="537.5" r="3.9"/><circle cx="338.2" cy="537.5" r="3.9"/><circle cx="345.6" cy="537.5" r="3.9"/><circle cx="352.9" cy="537.5" r="3.9"/><circle cx="360.3" cy="537.5" r="3.9"/><circle cx="367.7" cy="537.5" r="3.9"/><circle cx="375.1" cy="537.5" r="3.9"/><circle cx="382.4" cy="537.5" r="3.9"/><circle cx="389.8" cy="537.5" r="3.9"/><circle cx="397.2" cy="537.5" r="3.9"/><circle cx="404.5" cy="537.5" r="3.9"/><circle cx="411.9" cy="537.5" r="3.9"/><circle cx="419.3" cy="537.5" r="3.9"/><circle cx="426.6" cy="537.5" r="3.9"/><circle cx="434.0" cy="537.5" r="3.9"/><circle cx="441.4" cy="537.5" r="3.9"/><circle cx="448.8" cy="537.5" r="3.9"/><circle cx="456.1" cy="537.5" r="3.9"/><circle cx="463.5" cy="537.5" r="3.9"/><circle cx="470.9" cy="537.5" r="3.9"/><circle cx="478.2" cy="537.5" r="3.9"/><circle cx="485.6" cy="537.5" r="3.9"/><circle cx="493.0" cy="537.5" r="3.9"/><circle cx="500.3" cy="537.5" r="3.9"/><circle cx="507.7" cy="537.5" r="3.9"/><circle cx="515.1" cy="537.5" r="3.9"/><circle cx="522.5" cy="537.5" r="3.9"/><circle cx="529.8" cy="537.5" r="3.9"/><circle cx="537.2" cy="537.5" r="3.9"/><circle cx="544.6" cy="537.5" r="3.9"/><circle cx="551.9" cy="537.5" r="3.9"/><circle cx="559.3" cy="440.5" r="3.9"/><circle cx="566.7" cy="440.5" r="3.9"/><circle cx="574.0" cy="440.5" r="3.9"/><circle cx="581.4" cy="440.5" r="3.9"/><circle cx="588.8" cy="440.5" r="3.9"/><circle cx="596.2" cy="440.5" r="3.9"/><circle cx="603.5" cy="440.5" r="3.9"/><circle cx="610.9" cy="440.5" r="3.9"/><circle cx="618.3" cy="440.5" r="3.9"/><circle cx="625.6" cy="440.5" r="3.9"/><circle cx="633.0" cy="440.5" r="3.9"/><circle cx="640.4" cy="440.5" r="3.9"/><circle cx="647.7" cy="394.9" r="3.9"/><circle cx="655.1" cy="394.9" r="3.9"/><circle cx="662.5" cy="394.9" r="3.9"/><circle cx="669.9" cy="394.9" r="3.9"/><circle cx="677.2" cy="394.9" r="3.9"/><circle cx="684.6" cy="394.9" r="3.9"/><circle cx="692.0" cy="394.9" r="3.9"/><circle cx="699.3" cy="394.9" r="3.9"/><circle cx="706.7" cy="394.9" r="3.9"/><circle cx="714.1" cy="394.9" r="3.9"/><circle cx="721.4" cy="394.9" r="3.9"/><circle cx="728.8" cy="394.9" r="3.9"/><circle cx="736.2" cy="394.9" r="3.9"/><circle cx="743.5" cy="394.9" r="3.9"/><circle cx="750.9" cy="394.9" r="3.9"/><circle cx="758.3" cy="394.9" r="3.9"/><circle cx="765.7" cy="394.9" r="3.9"/><circle cx="773.0" cy="394.9" r="3.9"/><circle cx="780.4" cy="394.9" r="3.9"/><circle cx="787.8" cy="394.9" r="3.9"/><circle cx="795.1" cy="394.9" r="3.9"/><circle cx="802.5" cy="394.9" r="3.9"/><circle cx="809.9" cy="394.9" r="3.9"/><circle cx="817.2" cy="394.9" r="3.9"/><circle cx="824.6" cy="394.9" r="3.9"/><circle cx="832.0" cy="394.9" r="3.9"/><circle cx="839.4" cy="394.9" r="3.9"/><circle cx="846.7" cy="394.9" r="3.9"/><circle cx="854.1" cy="394.9" r="3.9"/><circle cx="861.5" cy="394.9" r="3.9"/><circle cx="868.8" cy="394.9" r="3.9"/><circle cx="876.2" cy="394.9" r="3.9"/><circle cx="883.6" cy="394.9" r="3.9"/><circle cx="891.0" cy="394.9" r="3.9"/><circle cx="898.3" cy="394.9" r="3.9"/><circle cx="905.7" cy="394.9" r="3.9"/><circle cx="913.1" cy="394.9" r="3.9"/><circle cx="920.4" cy="394.9" r="3.9"/></g>
<g fill="#fbbc04"><circle cx="190.8" cy="642.0" r="3.9"/><circle cx="198.2" cy="510.5" r="3.9"/><circle cx="205.5" cy="510.5" r="3.9"/><circle cx="212.9" cy="510.5" r="3.9"/><circle cx="220.3" cy="510.5" r="3.9"/><circle cx="227.7" cy="510.5" r="3.9"/><circle cx="235.0" cy="510.5" r="3.9"/><circle cx="242.4" cy="510.5" r="3.9"/><circle cx="249.8" cy="510.5" r="3.9"/><circle cx="257.1" cy="510.5" r="3.9"/><circle cx="264.5" cy="510.5" r="3.9"/><circle cx="271.9" cy="510.5" r="3.9"/><circle cx="279.2" cy="510.5" r="3.9"/><circle cx="286.6" cy="510.5" r="3.9"/><circle cx="294.0" cy="510.5" r="3.9"/><circle cx="301.4" cy="510.5" r="3.9"/><circle cx="308.7" cy="510.5" r="3.9"/><circle cx="316.1" cy="510.5" r="3.9"/><circle cx="323.5" cy="510.5" r="3.9"/><circle cx="330.8" cy="510.5" r="3.9"/><circle cx="338.2" cy="510.5" r="3.9"/><circle cx="345.6" cy="510.5" r="3.9"/><circle cx="352.9" cy="510.5" r="3.9"/><circle cx="360.3" cy="510.5" r="3.9"/><circle cx="367.7" cy="510.5" r="3.9"/><circle cx="375.1" cy="510.5" r="3.9"/><circle cx="382.4" cy="510.5" r="3.9"/><circle cx="389.8" cy="510.5" r="3.9"/><circle cx="397.2" cy="510.5" r="3.9"/><circle cx="404.5" cy="510.5" r="3.9"/><circle cx="411.9" cy="510.5" r="3.9"/><circle cx="419.3" cy="510.5" r="3.9"/><circle cx="426.6" cy="510.5" r="3.9"/><circle cx="434.0" cy="510.5" r="3.9"/><circle cx="441.4" cy="510.5" r="3.9"/><circle cx="448.8" cy="510.5" r="3.9"/><circle cx="456.1" cy="510.5" r="3.9"/><circle cx="463.5" cy="510.5" r="3.9"/><circle cx="470.9" cy="510.5" r="3.9"/><circle cx="478.2" cy="510.5" r="3.9"/><circle cx="485.6" cy="510.5" r="3.9"/><circle cx="493.0" cy="510.5" r="3.9"/><circle cx="500.3" cy="510.5" r="3.9"/><circle cx="507.7" cy="510.5" r="3.9"/><circle cx="515.1" cy="510.5" r="3.9"/><circle cx="522.5" cy="510.5" r="3.9"/><circle cx="529.8" cy="510.5" r="3.9"/><circle cx="537.2" cy="510.5" r="3.9"/><circle cx="544.6" cy="510.5" r="3.9"/><circle cx="551.9" cy="510.5" r="3.9"/><circle cx="559.3" cy="510.5" r="3.9"/><circle cx="566.7" cy="510.5" r="3.9"/><circle cx="574.0" cy="510.5" r="3.9"/><circle cx="581.4" cy="510.5" r="3.9"/><circle cx="588.8" cy="510.5" r="3.9"/><circle cx="596.2" cy="510.5" r="3.9"/><circle cx="603.5" cy="510.5" r="3.9"/><circle cx="610.9" cy="510.5" r="3.9"/><circle cx="618.3" cy="510.5" r="3.9"/><circle cx="625.6" cy="510.5" r="3.9"/><circle cx="633.0" cy="510.5" r="3.9"/><circle cx="640.4" cy="510.5" r="3.9"/><circle cx="647.7" cy="510.5" r="3.9"/><circle cx="655.1" cy="505.6" r="3.9"/><circle cx="662.5" cy="505.6" r="3.9"/><circle cx="669.9" cy="485.5" r="3.9"/><circle cx="677.2" cy="471.8" r="3.9"/><circle cx="684.6" cy="466.8" r="3.9"/><circle cx="692.0" cy="466.8" r="3.9"/><circle cx="699.3" cy="466.8" r="3.9"/><circle cx="706.7" cy="463.2" r="3.9"/><circle cx="714.1" cy="463.2" r="3.9"/><circle cx="721.4" cy="463.2" r="3.9"/><circle cx="728.8" cy="463.2" r="3.9"/><circle cx="736.2" cy="463.2" r="3.9"/><circle cx="743.5" cy="459.8" r="3.9"/><circle cx="750.9" cy="459.6" r="3.9"/><circle cx="758.3" cy="456.5" r="3.9"/><circle cx="765.7" cy="453.5" r="3.9"/><circle cx="773.0" cy="435.2" r="3.9"/><circle cx="780.4" cy="435.2" r="3.9"/><circle cx="787.8" cy="435.2" r="3.9"/><circle cx="795.1" cy="414.4" r="3.9"/><circle cx="802.5" cy="394.5" r="3.9"/><circle cx="809.9" cy="383.2" r="3.9"/><circle cx="817.2" cy="363.4" r="3.9"/><circle cx="824.6" cy="345.0" r="3.9"/><circle cx="832.0" cy="317.7" r="3.9"/><circle cx="839.4" cy="310.2" r="3.9"/><circle cx="846.7" cy="290.2" r="3.9"/><circle cx="854.1" cy="270.1" r="3.9"/><circle cx="861.5" cy="270.1" r="3.9"/><circle cx="868.8" cy="271.8" r="3.9"/><circle cx="876.2" cy="270.0" r="3.9"/><circle cx="883.6" cy="272.0" r="3.9"/><circle cx="891.0" cy="242.6" r="3.9"/><circle cx="898.3" cy="243.0" r="3.9"/><circle cx="905.7" cy="242.0" r="3.9"/><circle cx="913.1" cy="241.7" r="3.9"/><circle cx="920.4" cy="242.6" r="3.9"/></g>
<g fill="#34a853"><circle cx="190.8" cy="585.8" r="3.9"/><circle cx="198.2" cy="473.9" r="3.9"/><circle cx="205.5" cy="443.8" r="3.9"/><circle cx="212.9" cy="438.4" r="3.9"/><circle cx="220.3" cy="435.9" r="3.9"/><circle cx="227.7" cy="433.4" r="3.9"/><circle cx="235.0" cy="430.9" r="3.9"/><circle cx="242.4" cy="428.4" r="3.9"/><circle cx="249.8" cy="425.9" r="3.9"/><circle cx="257.1" cy="424.2" r="3.9"/><circle cx="264.5" cy="422.6" r="3.9"/><circle cx="271.9" cy="421.7" r="3.9"/><circle cx="279.2" cy="420.9" r="3.9"/><circle cx="286.6" cy="420.0" r="3.9"/><circle cx="294.0" cy="417.5" r="3.9"/><circle cx="301.4" cy="415.9" r="3.9"/><circle cx="308.7" cy="415.0" r="3.9"/><circle cx="316.1" cy="413.5" r="3.9"/><circle cx="323.5" cy="410.6" r="3.9"/><circle cx="330.8" cy="410.6" r="3.9"/><circle cx="338.2" cy="408.9" r="3.9"/><circle cx="345.6" cy="406.8" r="3.9"/><circle cx="352.9" cy="402.5" r="3.9"/><circle cx="360.3" cy="400.3" r="3.9"/><circle cx="367.7" cy="397.7" r="3.9"/><circle cx="375.1" cy="396.1" r="3.9"/><circle cx="382.4" cy="391.1" r="3.9"/><circle cx="389.8" cy="380.2" r="3.9"/><circle cx="397.2" cy="359.3" r="3.9"/><circle cx="404.5" cy="348.5" r="3.9"/><circle cx="411.9" cy="341.8" r="3.9"/><circle cx="419.3" cy="341.0" r="3.9"/><circle cx="426.6" cy="336.8" r="3.9"/><circle cx="434.0" cy="333.8" r="3.9"/><circle cx="441.4" cy="331.8" r="3.9"/><circle cx="448.8" cy="330.9" r="3.9"/><circle cx="456.1" cy="328.8" r="3.9"/><circle cx="463.5" cy="327.6" r="3.9"/><circle cx="470.9" cy="324.3" r="3.9"/><circle cx="478.2" cy="323.4" r="3.9"/><circle cx="485.6" cy="323.1" r="3.9"/><circle cx="493.0" cy="324.0" r="3.9"/><circle cx="500.3" cy="324.8" r="3.9"/><circle cx="507.7" cy="325.1" r="3.9"/><circle cx="515.1" cy="324.8" r="3.9"/><circle cx="522.5" cy="323.4" r="3.9"/><circle cx="529.8" cy="322.6" r="3.9"/><circle cx="537.2" cy="320.9" r="3.9"/><circle cx="544.6" cy="318.7" r="3.9"/><circle cx="551.9" cy="318.1" r="3.9"/><circle cx="559.3" cy="317.6" r="3.9"/><circle cx="566.7" cy="317.0" r="3.9"/><circle cx="574.0" cy="316.4" r="3.9"/><circle cx="581.4" cy="315.2" r="3.9"/><circle cx="588.8" cy="314.3" r="3.9"/><circle cx="596.2" cy="313.5" r="3.9"/><circle cx="603.5" cy="312.9" r="3.9"/><circle cx="610.9" cy="312.3" r="3.9"/><circle cx="618.3" cy="311.7" r="3.9"/><circle cx="625.6" cy="311.0" r="3.9"/><circle cx="633.0" cy="310.2" r="3.9"/><circle cx="640.4" cy="309.4" r="3.9"/><circle cx="647.7" cy="309.1" r="3.9"/><circle cx="655.1" cy="308.9" r="3.9"/><circle cx="662.5" cy="308.6" r="3.9"/><circle cx="669.9" cy="308.0" r="3.9"/><circle cx="677.2" cy="307.2" r="3.9"/><circle cx="684.6" cy="307.2" r="3.9"/><circle cx="692.0" cy="306.9" r="3.9"/><circle cx="699.3" cy="306.5" r="3.9"/><circle cx="706.7" cy="305.2" r="3.9"/><circle cx="714.1" cy="304.4" r="3.9"/><circle cx="721.4" cy="303.5" r="3.9"/><circle cx="728.8" cy="302.7" r="3.9"/><circle cx="736.2" cy="301.0" r="3.9"/><circle cx="743.5" cy="299.3" r="3.9"/><circle cx="750.9" cy="298.2" r="3.9"/><circle cx="758.3" cy="296.5" r="3.9"/><circle cx="765.7" cy="294.5" r="3.9"/><circle cx="773.0" cy="292.7" r="3.9"/><circle cx="780.4" cy="292.0" r="3.9"/><circle cx="787.8" cy="291.0" r="3.9"/><circle cx="795.1" cy="290.2" r="3.9"/><circle cx="802.5" cy="290.2" r="3.9"/><circle cx="809.9" cy="287.7" r="3.9"/><circle cx="817.2" cy="284.3" r="3.9"/><circle cx="824.6" cy="282.5" r="3.9"/><circle cx="832.0" cy="279.3" r="3.9"/><circle cx="839.4" cy="279.3" r="3.9"/><circle cx="846.7" cy="280.0" r="3.9"/><circle cx="854.1" cy="279.3" r="3.9"/><circle cx="861.5" cy="278.5" r="3.9"/><circle cx="868.8" cy="277.5" r="3.9"/><circle cx="876.2" cy="272.0" r="3.9"/><circle cx="883.6" cy="271.8" r="3.9"/><circle cx="891.0" cy="268.0" r="3.9"/><circle cx="898.3" cy="262.0" r="3.9"/><circle cx="905.7" cy="252.6" r="3.9"/><circle cx="913.1" cy="245.9" r="3.9"/><circle cx="920.4" cy="228.0" r="3.9"/></g>
<g fill="#ff6d01"><circle cx="190.8" cy="642.0" r="3.9"/><circle cx="198.2" cy="537.5" r="3.9"/><circle cx="205.5" cy="537.5" r="3.9"/><circle cx="212.9" cy="537.5" r="3.9"/><circle cx="220.3" cy="537.5" r="3.9"/><circle cx="227.7" cy="512.0" r="3.9"/><circle cx="235.0" cy="503.6" r="3.9"/><circle cx="242.4" cy="491.9" r="3.9"/><circle cx="249.8" cy="486.7" r="3.9"/><circle cx="257.1" cy="476.0" r="3.9"/><circle cx="264.5" cy="476.9" r="3.9"/><circle cx="271.9" cy="468.2" r="3.9"/><circle cx="279.2" cy="444.3" r="3.9"/><circle cx="286.6" cy="439.3" r="3.9"/><circle cx="294.0" cy="432.6" r="3.9"/><circle cx="301.4" cy="425.1" r="3.9"/><circle cx="308.7" cy="420.0" r="3.9"/><circle cx="316.1" cy="420.0" r="3.9"/><circle cx="323.5" cy="413.5" r="3.9"/><circle cx="330.8" cy="406.8" r="3.9"/><circle cx="338.2" cy="405.5" r="3.9"/><circle cx="345.6" cy="404.9" r="3.9"/><circle cx="352.9" cy="404.4" r="3.9"/><circle cx="360.3" cy="404.0" r="3.9"/><circle cx="367.7" cy="404.0" r="3.9"/><circle cx="375.1" cy="403.5" r="3.9"/><circle cx="382.4" cy="403.0" r="3.9"/><circle cx="389.8" cy="403.0" r="3.9"/><circle cx="397.2" cy="403.0" r="3.9"/><circle cx="404.5" cy="403.0" r="3.9"/><circle cx="411.9" cy="403.0" r="3.9"/><circle cx="419.3" cy="403.0" r="3.9"/><circle cx="426.6" cy="402.3" r="3.9"/><circle cx="434.0" cy="401.3" r="3.9"/><circle cx="441.4" cy="401.0" r="3.9"/><circle cx="448.8" cy="400.5" r="3.9"/><circle cx="456.1" cy="400.0" r="3.9"/><circle cx="463.5" cy="399.4" r="3.9"/><circle cx="470.9" cy="394.4" r="3.9"/><circle cx="478.2" cy="389.9" r="3.9"/><circle cx="485.6" cy="386.1" r="3.9"/><circle cx="493.0" cy="382.7" r="3.9"/><circle cx="500.3" cy="379.4" r="3.9"/><circle cx="507.7" cy="377.3" r="3.9"/><circle cx="515.1" cy="375.2" r="3.9"/><circle cx="522.5" cy="373.5" r="3.9"/><circle cx="529.8" cy="373.2" r="3.9"/><circle cx="537.2" cy="371.9" r="3.9"/><circle cx="544.6" cy="370.2" r="3.9"/><circle cx="551.9" cy="368.2" r="3.9"/><circle cx="559.3" cy="365.2" r="3.9"/><circle cx="566.7" cy="361.8" r="3.9"/><circle cx="574.0" cy="358.5" r="3.9"/><circle cx="581.4" cy="355.8" r="3.9"/><circle cx="588.8" cy="353.5" r="3.9"/><circle cx="596.2" cy="351.0" r="3.9"/><circle cx="603.5" cy="349.4" r="3.9"/><circle cx="610.9" cy="343.4" r="3.9"/><circle cx="618.3" cy="336.7" r="3.9"/><circle cx="625.6" cy="331.8" r="3.9"/><circle cx="633.0" cy="327.6" r="3.9"/><circle cx="640.4" cy="323.5" r="3.9"/><circle cx="647.7" cy="318.5" r="3.9"/><circle cx="655.1" cy="316.8" r="3.9"/><circle cx="662.5" cy="310.5" r="3.9"/><circle cx="669.9" cy="304.4" r="3.9"/><circle cx="677.2" cy="298.5" r="3.9"/><circle cx="684.6" cy="296.0" r="3.9"/><circle cx="692.0" cy="294.3" r="3.9"/><circle cx="699.3" cy="289.3" r="3.9"/><circle cx="706.7" cy="285.1" r="3.9"/><circle cx="714.1" cy="275.1" r="3.9"/><circle cx="721.4" cy="270.9" r="3.9"/><circle cx="728.8" cy="269.3" r="3.9"/><circle cx="736.2" cy="265.9" r="3.9"/><circle cx="743.5" cy="260.0" r="3.9"/><circle cx="750.9" cy="255.1" r="3.9"/><circle cx="758.3" cy="255.8" r="3.9"/><circle cx="765.7" cy="256.4" r="3.9"/><circle cx="773.0" cy="255.8" r="3.9"/><circle cx="780.4" cy="253.4" r="3.9"/><circle cx="787.8" cy="251.7" r="3.9"/><circle cx="795.1" cy="250.1" r="3.9"/><circle cx="802.5" cy="247.6" r="3.9"/><circle cx="809.9" cy="245.1" r="3.9"/><circle cx="817.2" cy="243.4" r="3.9"/><circle cx="824.6" cy="240.0" r="3.9"/><circle cx="832.0" cy="240.9" r="3.9"/><circle cx="839.4" cy="239.2" r="3.9"/><circle cx="846.7" cy="234.3" r="3.9"/><circle cx="854.1" cy="229.7" r="3.9"/><circle cx="861.5" cy="226.2" r="3.9"/><circle cx="868.8" cy="223.3" r="3.9"/><circle cx="876.2" cy="220.3" r="3.9"/><circle cx="883.6" cy="216.8" r="3.9"/><circle cx="891.0" cy="211.0" r="3.9"/><circle cx="898.3" cy="200.4" r="3.9"/><circle cx="905.7" cy="195.1" r="3.9"/><circle cx="913.1" cy="194.0" r="3.9"/><circle cx="920.4" cy="185.2" r="3.9"/></g>
<g fill="#46bdc6"><circle cx="190.8" cy="642.0" r="3.9"/><circle cx="198.2" cy="531.2" r="3.9"/><circle cx="205.5" cy="518.0" r="3.9"/><circle cx="212.9" cy="511.5" r="3.9"/><circle cx="220.3" cy="511.0" r="3.9"/><circle cx="227.7" cy="508.5" r="3.9"/><circle cx="235.0" cy="503.5" r="3.9"/><circle cx="242.4" cy="503.5" r="3.9"/><circle cx="249.8" cy="496.3" r="3.9"/><circle cx="257.1" cy="489.4" r="3.9"/><circle cx="264.5" cy="489.4" r="3.9"/><circle cx="271.9" cy="489.4" r="3.9"/><circle cx="279.2" cy="489.4" r="3.9"/><circle cx="286.6" cy="489.4" r="3.9"/><circle cx="294.0" cy="489.4" r="3.9"/><circle cx="301.4" cy="481.7" r="3.9"/><circle cx="308.7" cy="482.5" r="3.9"/><circle cx="316.1" cy="481.9" r="3.9"/><circle cx="323.5" cy="464.3" r="3.9"/><circle cx="330.8" cy="456.8" r="3.9"/><circle cx="338.2" cy="447.6" r="3.9"/><circle cx="345.6" cy="438.1" r="3.9"/><circle cx="352.9" cy="435.9" r="3.9"/><circle cx="360.3" cy="435.9" r="3.9"/><circle cx="367.7" cy="435.4" r="3.9"/><circle cx="375.1" cy="435.1" r="3.9"/><circle cx="382.4" cy="434.8" r="3.9"/><circle cx="389.8" cy="428.4" r="3.9"/><circle cx="397.2" cy="422.6" r="3.9"/><circle cx="404.5" cy="422.6" r="3.9"/><circle cx="411.9" cy="422.6" r="3.9"/><circle cx="419.3" cy="422.6" r="3.9"/><circle cx="426.6" cy="422.6" r="3.9"/><circle cx="434.0" cy="422.6" r="3.9"/><circle cx="441.4" cy="421.7" r="3.9"/><circle cx="448.8" cy="420.4" r="3.9"/><circle cx="456.1" cy="419.2" r="3.9"/><circle cx="463.5" cy="417.5" r="3.9"/><circle cx="470.9" cy="405.2" r="3.9"/><circle cx="478.2" cy="394.4" r="3.9"/><circle cx="485.6" cy="387.7" r="3.9"/><circle cx="493.0" cy="386.9" r="3.9"/><circle cx="500.3" cy="384.4" r="3.9"/><circle cx="507.7" cy="382.2" r="3.9"/><circle cx="515.1" cy="380.6" r="3.9"/><circle cx="522.5" cy="379.4" r="3.9"/><circle cx="529.8" cy="378.6" r="3.9"/><circle cx="537.2" cy="378.6" r="3.9"/><circle cx="544.6" cy="378.2" r="3.9"/><circle cx="551.9" cy="377.7" r="3.9"/><circle cx="559.3" cy="376.0" r="3.9"/><circle cx="566.7" cy="373.0" r="3.9"/><circle cx="574.0" cy="369.6" r="3.9"/><circle cx="581.4" cy="366.8" r="3.9"/><circle cx="588.8" cy="365.1" r="3.9"/><circle cx="596.2" cy="364.3" r="3.9"/><circle cx="603.5" cy="362.5" r="3.9"/><circle cx="610.9" cy="361.8" r="3.9"/><circle cx="618.3" cy="361.0" r="3.9"/><circle cx="625.6" cy="361.0" r="3.9"/><circle cx="633.0" cy="359.3" r="3.9"/><circle cx="640.4" cy="355.0" r="3.9"/><circle cx="647.7" cy="351.8" r="3.9"/><circle cx="655.1" cy="349.4" r="3.9"/><circle cx="662.5" cy="348.5" r="3.9"/><circle cx="669.9" cy="335.3" r="3.9"/><circle cx="677.2" cy="331.4" r="3.9"/><circle cx="684.6" cy="330.6" r="3.9"/><circle cx="692.0" cy="329.7" r="3.9"/><circle cx="699.3" cy="318.0" r="3.9"/><circle cx="706.7" cy="316.8" r="3.9"/><circle cx="714.1" cy="316.6" r="3.9"/><circle cx="721.4" cy="316.6" r="3.9"/><circle cx="728.8" cy="316.6" r="3.9"/><circle cx="736.2" cy="316.6" r="3.9"/><circle cx="743.5" cy="316.5" r="3.9"/><circle cx="750.9" cy="311.5" r="3.9"/><circle cx="758.3" cy="301.9" r="3.9"/><circle cx="765.7" cy="288.0" r="3.9"/><circle cx="773.0" cy="276.8" r="3.9"/><circle cx="780.4" cy="258.4" r="3.9"/><circle cx="787.8" cy="257.6" r="3.9"/><circle cx="795.1" cy="259.0" r="3.9"/><circle cx="802.5" cy="259.3" r="3.9"/><circle cx="809.9" cy="258.8" r="3.9"/><circle cx="817.2" cy="258.8" r="3.9"/><circle cx="824.6" cy="258.8" r="3.9"/><circle cx="832.0" cy="258.8" r="3.9"/><circle cx="839.4" cy="236.0" r="3.9"/><circle cx="846.7" cy="234.3" r="3.9"/><circle cx="854.1" cy="233.3" r="3.9"/><circle cx="861.5" cy="232.5" r="3.9"/><circle cx="868.8" cy="227.2" r="3.9"/><circle cx="876.2" cy="227.2" r="3.9"/><circle cx="883.6" cy="221.3" r="3.9"/><circle cx="891.0" cy="221.3" r="3.9"/><circle cx="898.3" cy="221.3" r="3.9"/><circle cx="905.7" cy="219.5" r="3.9"/><circle cx="913.1" cy="219.8" r="3.9"/><circle cx="920.4" cy="219.2" r="3.9"/></g>
<g fill="#7baaf7"><circle cx="190.8" cy="642.0" r="3.9"/><circle cx="198.2" cy="534.0" r="3.9"/><circle cx="205.5" cy="486.9" r="3.9"/><circle cx="212.9" cy="481.9" r="3.9"/><circle cx="220.3" cy="471.8" r="3.9"/><circle cx="227.7" cy="468.5" r="3.9"/><circle cx="235.0" cy="457.6" r="3.9"/><circle cx="242.4" cy="445.1" r="3.9"/><circle cx="249.8" cy="446.0" r="3.9"/><circle cx="257.1" cy="446.0" r="3.9"/><circle cx="264.5" cy="444.8" r="3.9"/><circle cx="271.9" cy="438.4" r="3.9"/><circle cx="279.2" cy="431.7" r="3.9"/><circle cx="286.6" cy="427.6" r="3.9"/><circle cx="294.0" cy="422.0" r="3.9"/><circle cx="301.4" cy="415.6" r="3.9"/><circle cx="308.7" cy="412.4" r="3.9"/><circle cx="316.1" cy="406.5" r="3.9"/><circle cx="323.5" cy="401.2" r="3.9"/><circle cx="330.8" cy="396.1" r="3.9"/><circle cx="338.2" cy="392.2" r="3.9"/><circle cx="345.6" cy="389.4" r="3.9"/><circle cx="352.9" cy="383.5" r="3.9"/><circle cx="360.3" cy="378.5" r="3.9"/><circle cx="367.7" cy="374.4" r="3.9"/><circle cx="375.1" cy="372.7" r="3.9"/><circle cx="382.4" cy="371.0" r="3.9"/><circle cx="389.8" cy="367.7" r="3.9"/><circle cx="397.2" cy="366.5" r="3.9"/><circle cx="404.5" cy="363.5" r="3.9"/><circle cx="411.9" cy="361.8" r="3.9"/><circle cx="419.3" cy="359.8" r="3.9"/><circle cx="426.6" cy="357.7" r="3.9"/><circle cx="434.0" cy="355.5" r="3.9"/><circle cx="441.4" cy="354.8" r="3.9"/><circle cx="448.8" cy="353.2" r="3.9"/><circle cx="456.1" cy="352.2" r="3.9"/><circle cx="463.5" cy="351.0" r="3.9"/><circle cx="470.9" cy="349.3" r="3.9"/><circle cx="478.2" cy="347.6" r="3.9"/><circle cx="485.6" cy="345.8" r="3.9"/><circle cx="493.0" cy="343.5" r="3.9"/><circle cx="500.3" cy="340.1" r="3.9"/><circle cx="507.7" cy="338.5" r="3.9"/><circle cx="515.1" cy="336.8" r="3.9"/><circle cx="522.5" cy="335.9" r="3.9"/><circle cx="529.8" cy="333.8" r="3.9"/><circle cx="537.2" cy="331.4" r="3.9"/><circle cx="544.6" cy="329.8" r="3.9"/><circle cx="551.9" cy="327.1" r="3.9"/><circle cx="559.3" cy="325.4" r="3.9"/><circle cx="566.7" cy="324.2" r="3.9"/><circle cx="574.0" cy="322.3" r="3.9"/><circle cx="581.4" cy="319.5" r="3.9"/><circle cx="588.8" cy="316.0" r="3.9"/><circle cx="596.2" cy="313.6" r="3.9"/><circle cx="603.5" cy="312.7" r="3.9"/><circle cx="610.9" cy="311.8" r="3.9"/><circle cx="618.3" cy="311.0" r="3.9"/><circle cx="625.6" cy="306.9" r="3.9"/><circle cx="633.0" cy="303.5" r="3.9"/><circle cx="640.4" cy="300.2" r="3.9"/><circle cx="647.7" cy="298.5" r="3.9"/><circle cx="655.1" cy="297.7" r="3.9"/><circle cx="662.5" cy="295.2" r="3.9"/><circle cx="669.9" cy="293.5" r="3.9"/><circle cx="677.2" cy="292.2" r="3.9"/><circle cx="684.6" cy="291.0" r="3.9"/><circle cx="692.0" cy="288.5" r="3.9"/><circle cx="699.3" cy="285.1" r="3.9"/><circle cx="706.7" cy="283.5" r="3.9"/><circle cx="714.1" cy="281.0" r="3.9"/><circle cx="721.4" cy="280.1" r="3.9"/><circle cx="728.8" cy="277.6" r="3.9"/><circle cx="736.2" cy="275.9" r="3.9"/><circle cx="743.5" cy="274.3" r="3.9"/><circle cx="750.9" cy="272.8" r="3.9"/><circle cx="758.3" cy="271.2" r="3.9"/><circle cx="765.7" cy="269.3" r="3.9"/><circle cx="773.0" cy="268.8" r="3.9"/><circle cx="780.4" cy="264.3" r="3.9"/><circle cx="787.8" cy="261.8" r="3.9"/><circle cx="795.1" cy="259.3" r="3.9"/><circle cx="802.5" cy="255.1" r="3.9"/><circle cx="809.9" cy="250.1" r="3.9"/><circle cx="817.2" cy="245.9" r="3.9"/><circle cx="824.6" cy="243.4" r="3.9"/><circle cx="832.0" cy="236.7" r="3.9"/><circle cx="839.4" cy="232.0" r="3.9"/><circle cx="846.7" cy="229.0" r="3.9"/><circle cx="854.1" cy="224.0" r="3.9"/><circle cx="861.5" cy="215.7" r="3.9"/><circle cx="868.8" cy="213.3" r="3.9"/><circle cx="876.2" cy="209.8" r="3.9"/><circle cx="883.6" cy="208.6" r="3.9"/><circle cx="891.0" cy="203.3" r="3.9"/><circle cx="898.3" cy="196.0" r="3.9"/><circle cx="905.7" cy="189.9" r="3.9"/><circle cx="913.1" cy="188.7" r="3.9"/><circle cx="920.4" cy="177.5" r="3.9"/></g>
<g fill="#f07b72"><circle cx="190.8" cy="617.5" r="3.9"/><circle cx="198.2" cy="617.5" r="3.9"/><circle cx="205.5" cy="518.5" r="3.9"/><circle cx="212.9" cy="518.5" r="3.9"/><circle cx="220.3" cy="518.5" r="3.9"/><circle cx="227.7" cy="518.5" r="3.9"/><circle cx="235.0" cy="518.5" r="3.9"/><circle cx="242.4" cy="518.5" r="3.9"/><circle cx="249.8" cy="518.5" r="3.9"/><circle cx="257.1" cy="518.5" r="3.9"/><circle cx="264.5" cy="512.0" r="3.9"/><circle cx="271.9" cy="511.5" r="3.9"/><circle cx="279.2" cy="511.5" r="3.9"/><circle cx="286.6" cy="511.5" r="3.9"/><circle cx="294.0" cy="511.5" r="3.9"/><circle cx="301.4" cy="511.5" r="3.9"/><circle cx="308.7" cy="511.5" r="3.9"/><circle cx="316.1" cy="511.5" r="3.9"/><circle cx="323.5" cy="511.5" r="3.9"/><circle cx="330.8" cy="504.9" r="3.9"/><circle cx="338.2" cy="504.9" r="3.9"/><circle cx="345.6" cy="504.9" r="3.9"/><circle cx="352.9" cy="504.9" r="3.9"/><circle cx="360.3" cy="504.9" r="3.9"/><circle cx="367.7" cy="504.9" r="3.9"/><circle cx="375.1" cy="504.9" r="3.9"/><circle cx="382.4" cy="504.9" r="3.9"/><circle cx="389.8" cy="504.9" r="3.9"/><circle cx="397.2" cy="504.9" r="3.9"/><circle cx="404.5" cy="504.9" r="3.9"/><circle cx="411.9" cy="504.9" r="3.9"/><circle cx="419.3" cy="494.9" r="3.9"/><circle cx="426.6" cy="481.9" r="3.9"/><circle cx="434.0" cy="470.2" r="3.9"/><circle cx="441.4" cy="464.3" r="3.9"/><circle cx="448.8" cy="457.6" r="3.9"/><circle cx="456.1" cy="438.8" r="3.9"/><circle cx="463.5" cy="430.9" r="3.9"/><circle cx="470.9" cy="430.9" r="3.9"/><circle cx="478.2" cy="430.9" r="3.9"/><circle cx="485.6" cy="430.9" r="3.9"/><circle cx="493.0" cy="430.9" r="3.9"/><circle cx="500.3" cy="430.9" r="3.9"/><circle cx="507.7" cy="430.9" r="3.9"/><circle cx="515.1" cy="430.9" r="3.9"/><circle cx="522.5" cy="430.9" r="3.9"/><circle cx="529.8" cy="420.9" r="3.9"/><circle cx="537.2" cy="418.5" r="3.9"/><circle cx="544.6" cy="414.2" r="3.9"/><circle cx="551.9" cy="413.4" r="3.9"/><circle cx="559.3" cy="410.9" r="3.9"/><circle cx="566.7" cy="410.5" r="3.9"/><circle cx="574.0" cy="408.0" r="3.9"/><circle cx="581.4" cy="407.0" r="3.9"/><circle cx="588.8" cy="406.5" r="3.9"/><circle cx="596.2" cy="405.2" r="3.9"/><circle cx="603.5" cy="404.0" r="3.9"/><circle cx="610.9" cy="403.6" r="3.9"/><circle cx="618.3" cy="403.2" r="3.9"/><circle cx="625.6" cy="400.5" r="3.9"/><circle cx="633.0" cy="397.7" r="3.9"/><circle cx="640.4" cy="396.0" r="3.9"/><circle cx="647.7" cy="394.4" r="3.9"/><circle cx="655.1" cy="393.5" r="3.9"/><circle cx="662.5" cy="393.2" r="3.9"/><circle cx="669.9" cy="392.7" r="3.9"/><circle cx="677.2" cy="381.8" r="3.9"/><circle cx="684.6" cy="381.0" r="3.9"/><circle cx="692.0" cy="380.2" r="3.9"/><circle cx="699.3" cy="376.8" r="3.9"/><circle cx="706.7" cy="373.5" r="3.9"/><circle cx="714.1" cy="368.1" r="3.9"/><circle cx="721.4" cy="368.4" r="3.9"/><circle cx="728.8" cy="368.4" r="3.9"/><circle cx="736.2" cy="368.1" r="3.9"/><circle cx="743.5" cy="367.6" r="3.9"/><circle cx="750.9" cy="364.0" r="3.9"/><circle cx="758.3" cy="357.2" r="3.9"/><circle cx="765.7" cy="356.8" r="3.9"/><circle cx="773.0" cy="357.0" r="3.9"/><circle cx="780.4" cy="357.0" r="3.9"/><circle cx="787.8" cy="352.0" r="3.9"/><circle cx="795.1" cy="350.0" r="3.9"/><circle cx="802.5" cy="340.0" r="3.9"/><circle cx="809.9" cy="318.6" r="3.9"/><circle cx="817.2" cy="310.0" r="3.9"/><circle cx="824.6" cy="297.7" r="3.9"/><circle cx="832.0" cy="288.5" r="3.9"/><circle cx="839.4" cy="284.5" r="3.9"/><circle cx="846.7" cy="283.5" r="3.9"/><circle cx="854.1" cy="281.0" r="3.9"/><circle cx="861.5" cy="280.2" r="3.9"/><circle cx="868.8" cy="279.3" r="3.9"/><circle cx="876.2" cy="268.5" r="3.9"/><circle cx="883.6" cy="269.3" r="3.9"/><circle cx="891.0" cy="267.6" r="3.9"/><circle cx="898.3" cy="268.5" r="3.9"/><circle cx="905.7" cy="268.1" r="3.9"/><circle cx="913.1" cy="257.6" r="3.9"/><circle cx="920.4" cy="230.0" r="3.9"/></g>
<g fill="#fcd04f"><circle cx="190.8" cy="642.0" r="3.9"/><circle cx="198.2" cy="518.5" r="3.9"/><circle cx="205.5" cy="489.4" r="3.9"/><circle cx="212.9" cy="467.7" r="3.9"/><circle cx="220.3" cy="464.3" r="3.9"/><circle cx="227.7" cy="455.1" r="3.9"/><circle cx="235.0" cy="452.1" r="3.9"/><circle cx="242.4" cy="450.1" r="3.9"/><circle cx="249.8" cy="444.3" r="3.9"/><circle cx="257.1" cy="438.4" r="3.9"/><circle cx="264.5" cy="433.4" r="3.9"/><circle cx="271.9" cy="429.7" r="3.9"/><circle cx="279.2" cy="425.9" r="3.9"/><circle cx="286.6" cy="416.8" r="3.9"/><circle cx="294.0" cy="411.4" r="3.9"/><circle cx="301.4" cy="404.0" r="3.9"/><circle cx="308.7" cy="398.5" r="3.9"/><circle cx="316.1" cy="393.2" r="3.9"/><circle cx="323.5" cy="389.4" r="3.9"/><circle cx="330.8" cy="386.6" r="3.9"/><circle cx="338.2" cy="382.2" r="3.9"/><circle cx="345.6" cy="378.5" r="3.9"/><circle cx="352.9" cy="373.5" r="3.9"/><circle cx="360.3" cy="369.8" r="3.9"/><circle cx="367.7" cy="366.5" r="3.9"/><circle cx="375.1" cy="363.5" r="3.9"/><circle cx="382.4" cy="360.8" r="3.9"/><circle cx="389.8" cy="357.7" r="3.9"/><circle cx="397.2" cy="354.3" r="3.9"/><circle cx="404.5" cy="351.8" r="3.9"/><circle cx="411.9" cy="349.3" r="3.9"/><circle cx="419.3" cy="346.8" r="3.9"/><circle cx="426.6" cy="343.5" r="3.9"/><circle cx="434.0" cy="340.1" r="3.9"/><circle cx="441.4" cy="338.1" r="3.9"/><circle cx="448.8" cy="336.4" r="3.9"/><circle cx="456.1" cy="334.3" r="3.9"/><circle cx="463.5" cy="332.6" r="3.9"/><circle cx="470.9" cy="330.4" r="3.9"/><circle cx="478.2" cy="328.8" r="3.9"/><circle cx="485.6" cy="326.8" r="3.9"/><circle cx="493.0" cy="324.8" r="3.9"/><circle cx="500.3" cy="322.6" r="3.9"/><circle cx="507.7" cy="320.9" r="3.9"/><circle cx="515.1" cy="320.4" r="3.9"/><circle cx="522.5" cy="319.7" r="3.9"/><circle cx="529.8" cy="317.6" r="3.9"/><circle cx="537.2" cy="315.1" r="3.9"/><circle cx="544.6" cy="312.6" r="3.9"/><circle cx="551.9" cy="310.4" r="3.9"/><circle cx="559.3" cy="308.0" r="3.9"/><circle cx="566.7" cy="306.0" r="3.9"/><circle cx="574.0" cy="304.4" r="3.9"/><circle cx="581.4" cy="302.3" r="3.9"/><circle cx="588.8" cy="300.3" r="3.9"/><circle cx="596.2" cy="298.3" r="3.9"/><circle cx="603.5" cy="296.3" r="3.9"/><circle cx="610.9" cy="294.4" r="3.9"/><circle cx="618.3" cy="292.4" r="3.9"/><circle cx="625.6" cy="290.8" r="3.9"/><circle cx="633.0" cy="289.3" r="3.9"/><circle cx="640.4" cy="287.4" r="3.9"/><circle cx="647.7" cy="285.5" r="3.9"/><circle cx="655.1" cy="283.6" r="3.9"/><circle cx="662.5" cy="281.7" r="3.9"/><circle cx="669.9" cy="279.8" r="3.9"/><circle cx="677.2" cy="277.9" r="3.9"/><circle cx="684.6" cy="275.9" r="3.9"/><circle cx="692.0" cy="274.0" r="3.9"/><circle cx="699.3" cy="272.0" r="3.9"/><circle cx="706.7" cy="270.1" r="3.9"/><circle cx="714.1" cy="267.9" r="3.9"/><circle cx="721.4" cy="265.7" r="3.9"/><circle cx="728.8" cy="263.6" r="3.9"/><circle cx="736.2" cy="261.4" r="3.9"/><circle cx="743.5" cy="259.2" r="3.9"/><circle cx="750.9" cy="256.8" r="3.9"/><circle cx="758.3" cy="255.1" r="3.9"/><circle cx="765.7" cy="252.3" r="3.9"/><circle cx="773.0" cy="250.1" r="3.9"/><circle cx="780.4" cy="247.6" r="3.9"/><circle cx="787.8" cy="245.1" r="3.9"/><circle cx="795.1" cy="242.6" r="3.9"/><circle cx="802.5" cy="239.2" r="3.9"/><circle cx="809.9" cy="236.5" r="3.9"/><circle cx="817.2" cy="233.6" r="3.9"/><circle cx="824.6" cy="231.2" r="3.9"/><circle cx="832.0" cy="228.6" r="3.9"/><circle cx="839.4" cy="228.5" r="3.9"/><circle cx="846.7" cy="226.8" r="3.9"/><circle cx="854.1" cy="223.3" r="3.9"/><circle cx="861.5" cy="219.8" r="3.9"/><circle cx="868.8" cy="216.2" r="3.9"/><circle cx="876.2" cy="211.5" r="3.9"/><circle cx="883.6" cy="206.9" r="3.9"/><circle cx="891.0" cy="201.0" r="3.9"/><circle cx="898.3" cy="194.5" r="3.9"/><circle cx="905.7" cy="185.8" r="3.9"/><circle cx="913.1" cy="174.6" r="3.9"/><circle cx="920.4" cy="156.2" r="3.9"/></g>
<g fill="#71c287"><circle cx="190.8" cy="603.3" r="3.9"/><circle cx="198.2" cy="518.5" r="3.9"/><circle cx="205.5" cy="518.0" r="3.9"/><circle cx="212.9" cy="518.0" r="3.9"/><circle cx="220.3" cy="518.0" r="3.9"/><circle cx="227.7" cy="511.5" r="3.9"/><circle cx="235.0" cy="511.5" r="3.9"/><circle cx="242.4" cy="511.5" r="3.9"/><circle cx="249.8" cy="511.5" r="3.9"/><circle cx="257.1" cy="511.5" r="3.9"/><circle cx="264.5" cy="511.5" r="3.9"/><circle cx="271.9" cy="511.5" r="3.9"/><circle cx="279.2" cy="511.5" r="3.9"/><circle cx="286.6" cy="511.5" r="3.9"/><circle cx="294.0" cy="511.5" r="3.9"/><circle cx="301.4" cy="511.5" r="3.9"/><circle cx="308.7" cy="511.5" r="3.9"/><circle cx="316.1" cy="511.5" r="3.9"/><circle cx="323.5" cy="511.5" r="3.9"/><circle cx="330.8" cy="504.9" r="3.9"/><circle cx="338.2" cy="504.9" r="3.9"/><circle cx="345.6" cy="504.9" r="3.9"/><circle cx="352.9" cy="504.9" r="3.9"/><circle cx="360.3" cy="504.9" r="3.9"/><circle cx="367.7" cy="504.9" r="3.9"/><circle cx="375.1" cy="489.0" r="3.9"/><circle cx="382.4" cy="489.4" r="3.9"/><circle cx="389.8" cy="489.4" r="3.9"/><circle cx="397.2" cy="489.4" r="3.9"/><circle cx="404.5" cy="471.8" r="3.9"/><circle cx="411.9" cy="468.8" r="3.9"/><circle cx="419.3" cy="466.5" r="3.9"/><circle cx="426.6" cy="458.1" r="3.9"/><circle cx="434.0" cy="449.8" r="3.9"/><circle cx="441.4" cy="438.1" r="3.9"/><circle cx="448.8" cy="430.0" r="3.9"/><circle cx="456.1" cy="425.0" r="3.9"/><circle cx="463.5" cy="421.7" r="3.9"/><circle cx="470.9" cy="420.9" r="3.9"/><circle cx="478.2" cy="411.8" r="3.9"/><circle cx="485.6" cy="404.7" r="3.9"/><circle cx="493.0" cy="402.8" r="3.9"/><circle cx="500.3" cy="402.8" r="3.9"/><circle cx="507.7" cy="402.8" r="3.9"/><circle cx="515.1" cy="400.5" r="3.9"/><circle cx="522.5" cy="399.5" r="3.9"/><circle cx="529.8" cy="399.0" r="3.9"/><circle cx="537.2" cy="398.5" r="3.9"/><circle cx="544.6" cy="397.5" r="3.9"/><circle cx="551.9" cy="396.1" r="3.9"/><circle cx="559.3" cy="391.1" r="3.9"/><circle cx="566.7" cy="381.1" r="3.9"/><circle cx="574.0" cy="377.7" r="3.9"/><circle cx="581.4" cy="373.5" r="3.9"/><circle cx="588.8" cy="372.7" r="3.9"/><circle cx="596.2" cy="371.8" r="3.9"/><circle cx="603.5" cy="363.5" r="3.9"/><circle cx="610.9" cy="354.0" r="3.9"/><circle cx="618.3" cy="347.3" r="3.9"/><circle cx="625.6" cy="341.7" r="3.9"/><circle cx="633.0" cy="338.7" r="3.9"/><circle cx="640.4" cy="338.2" r="3.9"/><circle cx="647.7" cy="337.9" r="3.9"/><circle cx="655.1" cy="338.2" r="3.9"/><circle cx="662.5" cy="338.0" r="3.9"/><circle cx="669.9" cy="337.5" r="3.9"/><circle cx="677.2" cy="336.5" r="3.9"/><circle cx="684.6" cy="334.3" r="3.9"/><circle cx="692.0" cy="334.5" r="3.9"/><circle cx="699.3" cy="334.3" r="3.9"/><circle cx="706.7" cy="333.5" r="3.9"/><circle cx="714.1" cy="331.8" r="3.9"/><circle cx="721.4" cy="328.3" r="3.9"/><circle cx="728.8" cy="328.1" r="3.9"/><circle cx="736.2" cy="331.0" r="3.9"/><circle cx="743.5" cy="329.7" r="3.9"/><circle cx="750.9" cy="325.7" r="3.9"/><circle cx="758.3" cy="316.9" r="3.9"/><circle cx="765.7" cy="315.5" r="3.9"/><circle cx="773.0" cy="315.2" r="3.9"/><circle cx="780.4" cy="315.2" r="3.9"/><circle cx="787.8" cy="312.7" r="3.9"/><circle cx="795.1" cy="311.1" r="3.9"/><circle cx="802.5" cy="309.4" r="3.9"/><circle cx="809.9" cy="301.9" r="3.9"/><circle cx="817.2" cy="291.8" r="3.9"/><circle cx="824.6" cy="287.0" r="3.9"/><circle cx="832.0" cy="284.5" r="3.9"/><circle cx="839.4" cy="284.3" r="3.9"/><circle cx="846.7" cy="284.3" r="3.9"/><circle cx="854.1" cy="284.3" r="3.9"/><circle cx="861.5" cy="283.0" r="3.9"/><circle cx="868.8" cy="284.3" r="3.9"/><circle cx="876.2" cy="284.3" r="3.9"/><circle cx="883.6" cy="284.3" r="3.9"/><circle cx="891.0" cy="278.5" r="3.9"/><circle cx="898.3" cy="262.6" r="3.9"/><circle cx="905.7" cy="258.4" r="3.9"/><circle cx="913.1" cy="250.1" r="3.9"/><circle cx="920.4" cy="222.6" r="3.9"/></g>
<g fill="#ff994d"><circle cx="190.8" cy="642.0" r="3.9"/><circle cx="198.2" cy="511.3" r="3.9"/><circle cx="205.5" cy="511.3" r="3.9"/><circle cx="212.9" cy="511.3" r="3.9"/><circle cx="220.3" cy="511.3" r="3.9"/><circle cx="227.7" cy="511.3" r="3.9"/><circle cx="235.0" cy="511.3" r="3.9"/><circle cx="242.4" cy="511.3" r="3.9"/><circle cx="249.8" cy="511.3" r="3.9"/><circle cx="257.1" cy="511.3" r="3.9"/><circle cx="264.5" cy="511.3" r="3.9"/><circle cx="271.9" cy="511.3" r="3.9"/><circle cx="279.2" cy="511.3" r="3.9"/><circle cx="286.6" cy="511.3" r="3.9"/><circle cx="294.0" cy="511.3" r="3.9"/><circle cx="301.4" cy="511.3" r="3.9"/><circle cx="308.7" cy="511.3" r="3.9"/><circle cx="316.1" cy="511.3" r="3.9"/><circle cx="323.5" cy="511.3" r="3.9"/><circle cx="330.8" cy="511.3" r="3.9"/><circle cx="338.2" cy="511.3" r="3.9"/><circle cx="345.6" cy="511.3" r="3.9"/><circle cx="352.9" cy="511.3" r="3.9"/><circle cx="360.3" cy="511.3" r="3.9"/><circle cx="367.7" cy="511.3" r="3.9"/><circle cx="375.1" cy="511.3" r="3.9"/><circle cx="382.4" cy="511.3" r="3.9"/><circle cx="389.8" cy="511.3" r="3.9"/><circle cx="397.2" cy="511.3" r="3.9"/><circle cx="404.5" cy="511.3" r="3.9"/><circle cx="411.9" cy="511.3" r="3.9"/><circle cx="419.3" cy="511.3" r="3.9"/><circle cx="426.6" cy="511.3" r="3.9"/><circle cx="434.0" cy="511.3" r="3.9"/><circle cx="441.4" cy="511.3" r="3.9"/><circle cx="448.8" cy="511.3" r="3.9"/><circle cx="456.1" cy="511.3" r="3.9"/><circle cx="463.5" cy="511.3" r="3.9"/><circle cx="470.9" cy="511.3" r="3.9"/><circle cx="478.2" cy="511.3" r="3.9"/><circle cx="485.6" cy="511.3" r="3.9"/><circle cx="493.0" cy="511.3" r="3.9"/><circle cx="500.3" cy="511.3" r="3.9"/><circle cx="507.7" cy="511.3" r="3.9"/><circle cx="515.1" cy="511.3" r="3.9"/><circle cx="522.5" cy="511.3" r="3.9"/><circle cx="529.8" cy="511.3" r="3.9"/><circle cx="537.2" cy="511.3" r="3.9"/><circle cx="544.6" cy="511.3" r="3.9"/><circle cx="551.9" cy="511.3" r="3.9"/><circle cx="559.3" cy="511.3" r="3.9"/><circle cx="566.7" cy="511.3" r="3.9"/><circle cx="574.0" cy="511.3" r="3.9"/><circle cx="581.4" cy="511.3" r="3.9"/><circle cx="588.8" cy="511.3" r="3.9"/><circle cx="596.2" cy="501.1" r="3.9"/><circle cx="603.5" cy="493.6" r="3.9"/><circle cx="610.9" cy="486.9" r="3.9"/><circle cx="618.3" cy="472.7" r="3.9"/><circle cx="625.6" cy="472.7" r="3.9"/><circle cx="633.0" cy="473.2" r="3.9"/><circle cx="640.4" cy="473.2" r="3.9"/><circle cx="647.7" cy="466.8" r="3.9"/><circle cx="655.1" cy="460.2" r="3.9"/><circle cx="662.5" cy="459.3" r="3.9"/><circle cx="669.9" cy="453.5" r="3.9"/><circle cx="677.2" cy="449.8" r="3.9"/><circle cx="684.6" cy="443.4" r="3.9"/><circle cx="692.0" cy="443.0" r="3.9"/><circle cx="699.3" cy="443.0" r="3.9"/><circle cx="706.7" cy="442.6" r="3.9"/><circle cx="714.1" cy="442.6" r="3.9"/><circle cx="721.4" cy="441.8" r="3.9"/><circle cx="728.8" cy="434.3" r="3.9"/><circle cx="736.2" cy="427.6" r="3.9"/><circle cx="743.5" cy="422.3" r="3.9"/><circle cx="750.9" cy="416.8" r="3.9"/><circle cx="758.3" cy="410.3" r="3.9"/><circle cx="765.7" cy="404.9" r="3.9"/><circle cx="773.0" cy="404.8" r="3.9"/><circle cx="780.4" cy="403.5" r="3.9"/><circle cx="787.8" cy="402.7" r="3.9"/><circle cx="795.1" cy="396.8" r="3.9"/><circle cx="802.5" cy="393.5" r="3.9"/><circle cx="809.9" cy="387.6" r="3.9"/><circle cx="817.2" cy="387.6" r="3.9"/><circle cx="824.6" cy="381.8" r="3.9"/><circle cx="832.0" cy="366.7" r="3.9"/><circle cx="839.4" cy="365.9" r="3.9"/><circle cx="846.7" cy="365.9" r="3.9"/><circle cx="854.1" cy="365.9" r="3.9"/><circle cx="861.5" cy="365.9" r="3.9"/><circle cx="868.8" cy="365.9" r="3.9"/><circle cx="876.2" cy="365.9" r="3.9"/><circle cx="883.6" cy="365.9" r="3.9"/><circle cx="891.0" cy="356.7" r="3.9"/><circle cx="898.3" cy="320.3" r="3.9"/><circle cx="905.7" cy="312.7" r="3.9"/><circle cx="913.1" cy="314.4" r="3.9"/><circle cx="920.4" cy="286.8" r="3.9"/></g>
<g fill="#7ed1d7"><circle cx="190.8" cy="642.0" r="3.9"/><circle cx="198.2" cy="593.3" r="3.9"/><circle cx="205.5" cy="537.5" r="3.9"/><circle cx="212.9" cy="525.0" r="3.9"/><circle cx="220.3" cy="518.0" r="3.9"/><circle cx="227.7" cy="509.8" r="3.9"/><circle cx="235.0" cy="511.3" r="3.9"/><circle cx="242.4" cy="511.3" r="3.9"/><circle cx="249.8" cy="511.3" r="3.9"/><circle cx="257.1" cy="511.3" r="3.9"/><circle cx="264.5" cy="511.3" r="3.9"/><circle cx="271.9" cy="511.3" r="3.9"/><circle cx="279.2" cy="511.3" r="3.9"/><circle cx="286.6" cy="501.5" r="3.9"/><circle cx="294.0" cy="495.0" r="3.9"/><circle cx="301.4" cy="487.0" r="3.9"/><circle cx="308.7" cy="482.7" r="3.9"/><circle cx="316.1" cy="476.9" r="3.9"/><circle cx="323.5" cy="467.7" r="3.9"/><circle cx="330.8" cy="459.3" r="3.9"/><circle cx="338.2" cy="453.1" r="3.9"/><circle cx="345.6" cy="446.0" r="3.9"/><circle cx="352.9" cy="440.1" r="3.9"/><circle cx="360.3" cy="436.4" r="3.9"/><circle cx="367.7" cy="430.9" r="3.9"/><circle cx="375.1" cy="426.7" r="3.9"/><circle cx="382.4" cy="421.7" r="3.9"/><circle cx="389.8" cy="417.5" r="3.9"/><circle cx="397.2" cy="414.5" r="3.9"/><circle cx="404.5" cy="411.4" r="3.9"/><circle cx="411.9" cy="408.5" r="3.9"/><circle cx="419.3" cy="405.8" r="3.9"/><circle cx="426.6" cy="402.9" r="3.9"/><circle cx="434.0" cy="399.9" r="3.9"/><circle cx="441.4" cy="396.5" r="3.9"/><circle cx="448.8" cy="393.6" r="3.9"/><circle cx="456.1" cy="391.6" r="3.9"/><circle cx="463.5" cy="389.4" r="3.9"/><circle cx="470.9" cy="386.9" r="3.9"/><circle cx="478.2" cy="384.4" r="3.9"/><circle cx="485.6" cy="381.9" r="3.9"/><circle cx="493.0" cy="379.4" r="3.9"/><circle cx="500.3" cy="376.9" r="3.9"/><circle cx="507.7" cy="374.9" r="3.9"/><circle cx="515.1" cy="372.2" r="3.9"/><circle cx="522.5" cy="369.9" r="3.9"/><circle cx="529.8" cy="367.2" r="3.9"/><circle cx="537.2" cy="364.9" r="3.9"/><circle cx="544.6" cy="362.7" r="3.9"/><circle cx="551.9" cy="360.2" r="3.9"/><circle cx="559.3" cy="357.7" r="3.9"/><circle cx="566.7" cy="355.3" r="3.9"/><circle cx="574.0" cy="352.9" r="3.9"/><circle cx="581.4" cy="351.0" r="3.9"/><circle cx="588.8" cy="349.8" r="3.9"/><circle cx="596.2" cy="347.5" r="3.9"/><circle cx="603.5" cy="343.5" r="3.9"/><circle cx="610.9" cy="339.3" r="3.9"/><circle cx="618.3" cy="336.8" r="3.9"/><circle cx="625.6" cy="334.5" r="3.9"/><circle cx="633.0" cy="332.7" r="3.9"/><circle cx="640.4" cy="330.3" r="3.9"/><circle cx="647.7" cy="327.7" r="3.9"/><circle cx="655.1" cy="326.1" r="3.9"/><circle cx="662.5" cy="323.6" r="3.9"/><circle cx="669.9" cy="321.6" r="3.9"/><circle cx="677.2" cy="319.4" r="3.9"/><circle cx="684.6" cy="317.7" r="3.9"/><circle cx="692.0" cy="315.2" r="3.9"/><circle cx="699.3" cy="312.7" r="3.9"/><circle cx="706.7" cy="311.0" r="3.9"/><circle cx="714.1" cy="309.4" r="3.9"/><circle cx="721.4" cy="307.7" r="3.9"/><circle cx="728.8" cy="305.2" r="3.9"/><circle cx="736.2" cy="303.5" r="3.9"/><circle cx="743.5" cy="301.8" r="3.9"/><circle cx="750.9" cy="300.2" r="3.9"/><circle cx="758.3" cy="298.5" r="3.9"/><circle cx="765.7" cy="296.0" r="3.9"/><circle cx="773.0" cy="294.4" r="3.9"/><circle cx="780.4" cy="292.7" r="3.9"/><circle cx="787.8" cy="290.2" r="3.9"/><circle cx="795.1" cy="287.7" r="3.9"/><circle cx="802.5" cy="284.3" r="3.9"/><circle cx="809.9" cy="281.8" r="3.9"/><circle cx="817.2" cy="279.3" r="3.9"/><circle cx="824.6" cy="276.0" r="3.9"/><circle cx="832.0" cy="271.8" r="3.9"/><circle cx="839.4" cy="268.5" r="3.9"/><circle cx="846.7" cy="264.3" r="3.9"/><circle cx="854.1" cy="260.1" r="3.9"/><circle cx="861.5" cy="255.9" r="3.9"/><circle cx="868.8" cy="251.7" r="3.9"/><circle cx="876.2" cy="246.7" r="3.9"/><circle cx="883.6" cy="241.7" r="3.9"/><circle cx="891.0" cy="235.7" r="3.9"/><circle cx="898.3" cy="227.0" r="3.9"/><circle cx="905.7" cy="218.0" r="3.9"/><circle cx="913.1" cy="206.9" r="3.9"/><circle cx="920.4" cy="187.5" r="3.9"/></g>
<g fill="#b3cefb"><circle cx="190.8" cy="642.0" r="3.9"/><circle cx="198.2" cy="531.2" r="3.9"/><circle cx="205.5" cy="531.2" r="3.9"/><circle cx="212.9" cy="531.2" r="3.9"/><circle cx="220.3" cy="531.2" r="3.9"/><circle cx="227.7" cy="515.0" r="3.9"/><circle cx="235.0" cy="511.3" r="3.9"/><circle cx="242.4" cy="511.3" r="3.9"/><circle cx="249.8" cy="511.3" r="3.9"/><circle cx="257.1" cy="504.9" r="3.9"/><circle cx="264.5" cy="500.8" r="3.9"/><circle cx="271.9" cy="500.8" r="3.9"/><circle cx="279.2" cy="500.8" r="3.9"/><circle cx="286.6" cy="500.8" r="3.9"/><circle cx="294.0" cy="500.8" r="3.9"/><circle cx="301.4" cy="500.8" r="3.9"/><circle cx="308.7" cy="500.8" r="3.9"/><circle cx="316.1" cy="500.8" r="3.9"/><circle cx="323.5" cy="496.9" r="3.9"/><circle cx="330.8" cy="497.7" r="3.9"/><circle cx="338.2" cy="495.2" r="3.9"/><circle cx="345.6" cy="476.0" r="3.9"/><circle cx="352.9" cy="456.0" r="3.9"/><circle cx="360.3" cy="450.1" r="3.9"/><circle cx="367.7" cy="440.1" r="3.9"/><circle cx="375.1" cy="440.1" r="3.9"/><circle cx="382.4" cy="440.1" r="3.9"/><circle cx="389.8" cy="440.1" r="3.9"/><circle cx="397.2" cy="440.1" r="3.9"/><circle cx="404.5" cy="440.1" r="3.9"/><circle cx="411.9" cy="433.4" r="3.9"/><circle cx="419.3" cy="427.6" r="3.9"/><circle cx="426.6" cy="427.6" r="3.9"/><circle cx="434.0" cy="427.6" r="3.9"/><circle cx="441.4" cy="427.6" r="3.9"/><circle cx="448.8" cy="427.6" r="3.9"/><circle cx="456.1" cy="427.6" r="3.9"/><circle cx="463.5" cy="427.6" r="3.9"/><circle cx="470.9" cy="427.6" r="3.9"/><circle cx="478.2" cy="427.6" r="3.9"/><circle cx="485.6" cy="427.6" r="3.9"/><circle cx="493.0" cy="427.6" r="3.9"/><circle cx="500.3" cy="427.6" r="3.9"/><circle cx="507.7" cy="427.6" r="3.9"/><circle cx="515.1" cy="427.6" r="3.9"/><circle cx="522.5" cy="427.6" r="3.9"/><circle cx="529.8" cy="425.9" r="3.9"/><circle cx="537.2" cy="419.2" r="3.9"/><circle cx="544.6" cy="412.5" r="3.9"/><circle cx="551.9" cy="412.5" r="3.9"/><circle cx="559.3" cy="406.7" r="3.9"/><circle cx="566.7" cy="405.9" r="3.9"/><circle cx="574.0" cy="403.4" r="3.9"/><circle cx="581.4" cy="399.7" r="3.9"/><circle cx="588.8" cy="397.2" r="3.9"/><circle cx="596.2" cy="395.2" r="3.9"/><circle cx="603.5" cy="394.4" r="3.9"/><circle cx="610.9" cy="394.4" r="3.9"/><circle cx="618.3" cy="393.5" r="3.9"/><circle cx="625.6" cy="387.7" r="3.9"/><circle cx="633.0" cy="386.5" r="3.9"/><circle cx="640.4" cy="386.0" r="3.9"/><circle cx="647.7" cy="386.0" r="3.9"/><circle cx="655.1" cy="384.9" r="3.9"/><circle cx="662.5" cy="382.7" r="3.9"/><circle cx="669.9" cy="382.2" r="3.9"/><circle cx="677.2" cy="381.5" r="3.9"/><circle cx="684.6" cy="377.7" r="3.9"/><circle cx="692.0" cy="372.7" r="3.9"/><circle cx="699.3" cy="365.1" r="3.9"/><circle cx="706.7" cy="359.3" r="3.9"/><circle cx="714.1" cy="352.7" r="3.9"/><circle cx="721.4" cy="345.2" r="3.9"/><circle cx="728.8" cy="334.3" r="3.9"/><circle cx="736.2" cy="326.6" r="3.9"/><circle cx="743.5" cy="322.6" r="3.9"/><circle cx="750.9" cy="317.6" r="3.9"/><circle cx="758.3" cy="315.4" r="3.9"/><circle cx="765.7" cy="313.4" r="3.9"/><circle cx="773.0" cy="311.6" r="3.9"/><circle cx="780.4" cy="310.2" r="3.9"/><circle cx="787.8" cy="306.0" r="3.9"/><circle cx="795.1" cy="302.7" r="3.9"/><circle cx="802.5" cy="300.2" r="3.9"/><circle cx="809.9" cy="296.9" r="3.9"/><circle cx="817.2" cy="292.7" r="3.9"/><circle cx="824.6" cy="287.7" r="3.9"/><circle cx="832.0" cy="283.8" r="3.9"/><circle cx="839.4" cy="283.8" r="3.9"/><circle cx="846.7" cy="276.8" r="3.9"/><circle cx="854.1" cy="271.8" r="3.9"/><circle cx="861.5" cy="271.0" r="3.9"/><circle cx="868.8" cy="265.1" r="3.9"/><circle cx="876.2" cy="261.8" r="3.9"/><circle cx="883.6" cy="261.0" r="3.9"/><circle cx="891.0" cy="259.8" r="3.9"/><circle cx="898.3" cy="258.1" r="3.9"/><circle cx="905.7" cy="254.8" r="3.9"/><circle cx="913.1" cy="234.7" r="3.9"/><circle cx="920.4" cy="214.5" r="3.9"/></g>
<g fill="#f7b4ae"><circle cx="190.8" cy="617.5" r="3.9"/><circle cx="198.2" cy="517.8" r="3.9"/><circle cx="205.5" cy="462.7" r="3.9"/><circle cx="212.9" cy="449.3" r="3.9"/><circle cx="220.3" cy="435.9" r="3.9"/><circle cx="227.7" cy="426.7" r="3.9"/><circle cx="235.0" cy="424.2" r="3.9"/><circle cx="242.4" cy="420.6" r="3.9"/><circle cx="249.8" cy="413.5" r="3.9"/><circle cx="257.1" cy="406.6" r="3.9"/><circle cx="264.5" cy="401.0" r="3.9"/><circle cx="271.9" cy="396.9" r="3.9"/><circle cx="279.2" cy="378.5" r="3.9"/><circle cx="286.6" cy="367.7" r="3.9"/><circle cx="294.0" cy="361.5" r="3.9"/><circle cx="301.4" cy="356.8" r="3.9"/><circle cx="308.7" cy="352.6" r="3.9"/><circle cx="316.1" cy="349.3" r="3.9"/><circle cx="323.5" cy="348.5" r="3.9"/><circle cx="330.8" cy="347.6" r="3.9"/><circle cx="338.2" cy="347.3" r="3.9"/><circle cx="345.6" cy="346.8" r="3.9"/><circle cx="352.9" cy="346.4" r="3.9"/><circle cx="360.3" cy="346.4" r="3.9"/><circle cx="367.7" cy="346.4" r="3.9"/><circle cx="375.1" cy="346.4" r="3.9"/><circle cx="382.4" cy="346.4" r="3.9"/><circle cx="389.8" cy="346.2" r="3.9"/><circle cx="397.2" cy="346.1" r="3.9"/><circle cx="404.5" cy="346.0" r="3.9"/><circle cx="411.9" cy="345.9" r="3.9"/><circle cx="419.3" cy="345.8" r="3.9"/><circle cx="426.6" cy="345.7" r="3.9"/><circle cx="434.0" cy="345.6" r="3.9"/><circle cx="441.4" cy="345.6" r="3.9"/><circle cx="448.8" cy="345.5" r="3.9"/><circle cx="456.1" cy="345.4" r="3.9"/><circle cx="463.5" cy="345.3" r="3.9"/><circle cx="470.9" cy="345.2" r="3.9"/><circle cx="478.2" cy="345.1" r="3.9"/><circle cx="485.6" cy="345.0" r="3.9"/><circle cx="493.0" cy="345.0" r="3.9"/><circle cx="500.3" cy="344.9" r="3.9"/><circle cx="507.7" cy="344.7" r="3.9"/><circle cx="515.1" cy="344.6" r="3.9"/><circle cx="522.5" cy="344.5" r="3.9"/><circle cx="529.8" cy="344.4" r="3.9"/><circle cx="537.2" cy="344.2" r="3.9"/><circle cx="544.6" cy="344.1" r="3.9"/><circle cx="551.9" cy="344.0" r="3.9"/><circle cx="559.3" cy="343.9" r="3.9"/><circle cx="566.7" cy="343.7" r="3.9"/><circle cx="574.0" cy="343.6" r="3.9"/><circle cx="581.4" cy="343.4" r="3.9"/><circle cx="588.8" cy="343.3" r="3.9"/><circle cx="596.2" cy="343.1" r="3.9"/><circle cx="603.5" cy="343.0" r="3.9"/><circle cx="610.9" cy="342.8" r="3.9"/><circle cx="618.3" cy="342.7" r="3.9"/><circle cx="625.6" cy="342.5" r="3.9"/><circle cx="633.0" cy="342.4" r="3.9"/><circle cx="640.4" cy="341.4" r="3.9"/><circle cx="647.7" cy="341.2" r="3.9"/><circle cx="655.1" cy="341.0" r="3.9"/><circle cx="662.5" cy="340.8" r="3.9"/><circle cx="669.9" cy="340.5" r="3.9"/><circle cx="677.2" cy="340.5" r="3.9"/><circle cx="684.6" cy="340.5" r="3.9"/><circle cx="692.0" cy="340.4" r="3.9"/><circle cx="699.3" cy="340.4" r="3.9"/><circle cx="706.7" cy="340.4" r="3.9"/><circle cx="714.1" cy="340.4" r="3.9"/><circle cx="721.4" cy="340.3" r="3.9"/><circle cx="728.8" cy="340.3" r="3.9"/><circle cx="736.2" cy="340.3" r="3.9"/><circle cx="743.5" cy="339.5" r="3.9"/><circle cx="750.9" cy="332.4" r="3.9"/><circle cx="758.3" cy="328.8" r="3.9"/><circle cx="765.7" cy="326.1" r="3.9"/><circle cx="773.0" cy="324.4" r="3.9"/><circle cx="780.4" cy="322.8" r="3.9"/><circle cx="787.8" cy="321.1" r="3.9"/><circle cx="795.1" cy="320.3" r="3.9"/><circle cx="802.5" cy="318.6" r="3.9"/><circle cx="809.9" cy="315.2" r="3.9"/><circle cx="817.2" cy="311.1" r="3.9"/><circle cx="824.6" cy="306.9" r="3.9"/><circle cx="832.0" cy="302.7" r="3.9"/><circle cx="839.4" cy="298.5" r="3.9"/><circle cx="846.7" cy="295.2" r="3.9"/><circle cx="854.1" cy="290.2" r="3.9"/><circle cx="861.5" cy="285.2" r="3.9"/><circle cx="868.8" cy="281.8" r="3.9"/><circle cx="876.2" cy="273.5" r="3.9"/><circle cx="883.6" cy="264.3" r="3.9"/><circle cx="891.0" cy="253.4" r="3.9"/><circle cx="898.3" cy="238.4" r="3.9"/><circle cx="905.7" cy="225.4" r="3.9"/><circle cx="913.1" cy="216.8" r="3.9"/><circle cx="920.4" cy="209.2" r="3.9"/></g>
</g>
<circle cx="973.8" cy="167.8" r="12.1" fill="#a8ccbc"/>
<text x="1002" y="172.3" font-family="Liberation Sans, sans-serif" font-size="20" fill="#80868b" stroke="#80868b" stroke-width="0.4">ad</text>
<circle cx="973.8" cy="211.8" r="12.1" fill="#000000"/>
<text x="1002" y="216.3" font-family="Liberation Sans, sans-serif" font-size="20" fill="#80868b" stroke="#80868b" stroke-width="0.4">advertising</text>
<circle cx="973.8" cy="255.8" r="12.1" fill="#fbbc04"/>
<text x="1002" y="260.3" font-family="Liberation Sans, sans-serif" font-size="20" fill="#80868b" stroke="#80868b" stroke-width="0.4">analytics</text>
<circle cx="973.8" cy="299.8" r="12.1" fill="#34a853"/>
<text x="1002" y="304.3" font-family="Liberation Sans, sans-serif" font-size="20" fill="#80868b" stroke="#80868b" stroke-width="0.4">cdn</text>
<circle cx="973.8" cy="343.8" r="12.1" fill="#ff6d01"/>
<text x="1002" y="348.3" font-family="Liberation Sans, sans-serif" font-size="20" fill="#80868b" stroke="#80868b" stroke-width="0.4">content</text>
<circle cx="973.8" cy="387.8" r="12.1" fill="#46bdc6"/>
<text x="1002" y="392.3" font-family="Liberation Sans, sans-serif" font-size="20" fill="#80868b" stroke="#80868b" stroke-width="0.4">customer-success</text>
<circle cx="973.8" cy="431.8" r="12.1" fill="#7baaf7"/>
<text x="1002" y="436.3" font-family="Liberation Sans, sans-serif" font-size="20" fill="#80868b" stroke="#80868b" stroke-width="0.4">hosting</text>
<circle cx="973.8" cy="475.8" r="12.1" fill="#f07b72"/>
<text x="1002" y="480.3" font-family="Liberation Sans, sans-serif" font-size="20" fill="#80868b" stroke="#80868b" stroke-width="0.4">marketing</text>
<circle cx="973.8" cy="519.8" r="12.1" fill="#fcd04f"/>
<text x="1002" y="524.3" font-family="Liberation Sans, sans-serif" font-size="20" fill="#80868b" stroke="#80868b" stroke-width="0.4">other</text>
<circle cx="973.8" cy="563.8" r="12.1" fill="#71c287"/>
<text x="1002" y="568.3" font-family="Liberation Sans, sans-serif" font-size="20" fill="#80868b" stroke="#80868b" stroke-width="0.4">social</text>
<circle cx="973.8" cy="607.8" r="12.1" fill="#ff994d"/>
<text x="1002" y="612.3" font-family="Liberation Sans, sans-serif" font-size="20" fill="#80868b" stroke="#80868b" stroke-width="0.4">tag-manager</text>
<circle cx="973.8" cy="651.8" r="12.1" fill="#7ed1d7"/>
<text x="1002" y="656.3" font-family="Liberation Sans, sans-serif" font-size="20" fill="#80868b" stroke="#80868b" stroke-width="0.4">unknown</text>
<text x="962" y="700.4" font-family="Liberation Sans, sans-serif" font-size="20" fill="#80868b" stroke="#80868b" stroke-width="0.4">2 more</text>
<rect x="0" y="740.6" width="1200" height="1.4" fill="#8c8c8c"/>
</svg>
</body></html>
